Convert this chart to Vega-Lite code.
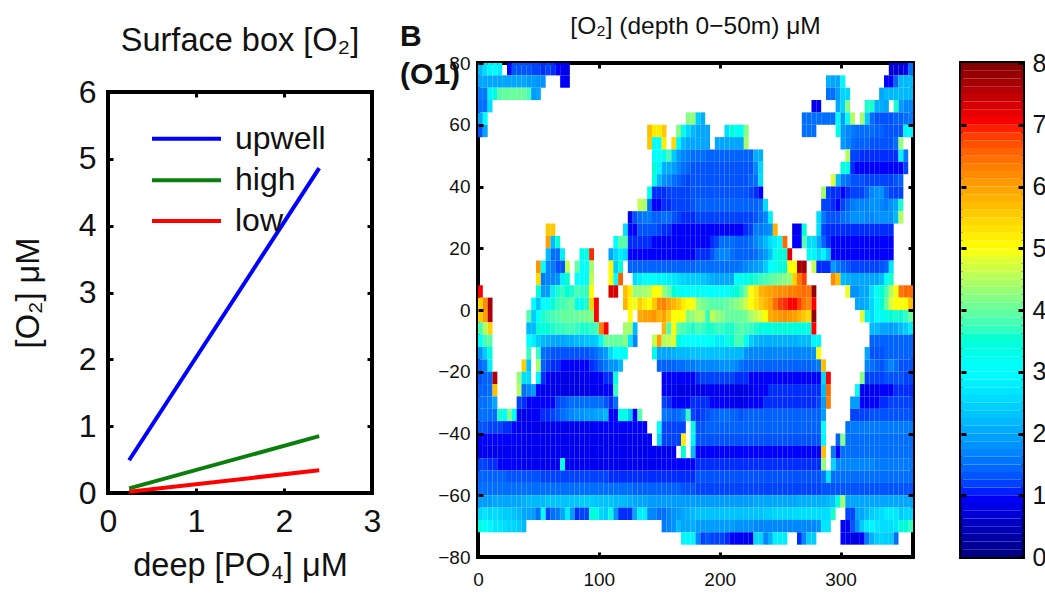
{"$schema":"https://vega.github.io/schema/vega-lite/v6.json","background":"white","padding":{"left":10,"top":11,"right":0,"bottom":0},"spacing":15,"config":{"view":{"stroke":"black","strokeWidth":4},"font":"Liberation Sans","axis":{"grid":false,"domain":false,"labelFlush":false,"tickColor":"black","labelColor":"#111","titleColor":"#111","titleFontWeight":"normal"}},
"hconcat":[
{"bounds":"flush","spacing":0,"vconcat":[
{"width":264,"height":29,"view":{"stroke":null},"data":{"values":[{"k":1}]},"mark":{"type":"point","opacity":0},"encoding":{}},
{"width":264,"height":401,"title":{"text":"Surface box [O₂]","fontSize":32.5,"fontWeight":"normal","offset":19,"color":"#111"},
"resolve":{"axis":{"x":"independent","y":"independent"}},
"layer":[
{"data":{"values":[{"d":0.24,"o":0.49,"s":"upwell"},{"d":2.4,"o":4.86,"s":"upwell"},{"d":0.24,"o":0.07,"s":"high"},{"d":2.4,"o":0.85,"s":"high"},{"d":0.24,"o":0.02,"s":"low"},{"d":2.4,"o":0.34,"s":"low"}]},
"mark":{"type":"line","strokeWidth":4},
"encoding":{"x":{"field":"d","type":"quantitative","scale":{"domain":[0,3]},"axis":{"values":[0,1,2,3],"tickSize":-5,"tickWidth":3,"labelFontSize":32,"labelPadding":18,"titleFontSize":32.5,"title":"deep [PO₄] μM","titlePadding":12}},
"y":{"field":"o","type":"quantitative","scale":{"domain":[0,6]},"axis":{"values":[0,1,2,3,4,5,6],"tickSize":-5,"tickWidth":3,"labelFontSize":32,"labelPadding":17,"titleFontSize":32.5,"title":"[O₂] μM","titlePadding":33}},
"color":{"field":"s","type":"nominal","scale":{"domain":["upwell","high","low"],"range":["#0000ff","#0b7f0b","#ff0000"]},"legend":null}}},
{"data":{"values":[{"d":0.5,"d2":1.284,"t":1.443,"o":5.3,"s":"upwell"},{"d":0.5,"d2":1.284,"t":1.443,"o":4.68,"s":"high"},{"d":0.5,"d2":1.284,"t":1.443,"o":4.07,"s":"low"}]},"mark":{"type":"rule","strokeWidth":4},
"encoding":{"x":{"field":"d","type":"quantitative","axis":null},"x2":{"field":"d2"},"y":{"field":"o","type":"quantitative","axis":null},"color":{"field":"s","type":"nominal","legend":null}}},
{"data":{"values":[{"t":1.443,"o":5.3,"s":"upwell"},{"t":1.443,"o":4.68,"s":"high"},{"t":1.443,"o":4.07,"s":"low"}]},"mark":{"type":"text","align":"left","baseline":"middle","fontSize":32,"color":"#111"},
"encoding":{"x":{"field":"t","type":"quantitative","axis":null},"y":{"field":"o","type":"quantitative","axis":null},"text":{"field":"s"}}},
{"data":{"values":[{"d":1,"o":1}]},"mark":{"type":"point","opacity":0},
"encoding":{"x":{"field":"d","type":"quantitative","axis":{"orient":"top","values":[1,2],"labels":false,"tickSize":-5,"tickWidth":3,"title":null}},
"y":{"field":"o","type":"quantitative","axis":{"orient":"right","values":[1,2,3,4,5],"labels":false,"tickSize":-5,"tickWidth":3,"title":null}}}}
]}
]},
{"width":435,"height":494,
"resolve":{"axis":{"x":"independent","y":"independent"}},
"layer":[
{"data":{"values":[
{"x":2,"y":78,"v":2.2},{"x":6,"y":78,"v":2.6},{"x":10,"y":78,"v":2.9},{"x":14,"y":78,"v":3},{"x":18,"y":78,"v":2.8},{"x":26,"y":78,"v":1},{"x":30,"y":78,"v":1.3},{"x":34,"y":78,"v":1.3},{"x":38,"y":78,"v":1.3},{"x":42,"y":78,"v":1.3},{"x":46,"y":78,"v":1.2},{"x":50,"y":78,"v":1.2},{"x":54,"y":78,"v":1.1},{"x":58,"y":78,"v":1.2},{"x":62,"y":78,"v":1.1},{"x":66,"y":78,"v":1},{"x":70,"y":78,"v":0.9},{"x":74,"y":78,"v":0.8},{"x":342,"y":78,"v":0.7},{"x":346,"y":78,"v":0.7},{"x":350,"y":78,"v":0.7},{"x":354,"y":78,"v":0.9},{"x":358,"y":78,"v":1.5},
{"x":2,"y":74,"v":2},{"x":6,"y":74,"v":2},{"x":10,"y":74,"v":2},{"x":14,"y":74,"v":2},{"x":18,"y":74,"v":2},{"x":22,"y":74,"v":2},{"x":26,"y":74,"v":2},{"x":30,"y":74,"v":2},{"x":34,"y":74,"v":2},{"x":38,"y":74,"v":2},{"x":42,"y":74,"v":1.9},{"x":46,"y":74,"v":1.9},{"x":50,"y":74,"v":1.8},{"x":54,"y":74,"v":1.8},{"x":70,"y":74,"v":1},{"x":74,"y":74,"v":0.9},{"x":290,"y":74,"v":2.1},{"x":294,"y":74,"v":2},{"x":298,"y":74,"v":2},{"x":302,"y":74,"v":2.9},{"x":338,"y":74,"v":1},{"x":342,"y":74,"v":1},{"x":346,"y":74,"v":1.4},{"x":350,"y":74,"v":2.2},{"x":354,"y":74,"v":2.2},{"x":358,"y":74,"v":2.2},
{"x":2,"y":70,"v":1.6},{"x":6,"y":70,"v":1.6},{"x":10,"y":70,"v":2.9},{"x":14,"y":70,"v":3.4},{"x":18,"y":70,"v":3.9},{"x":22,"y":70,"v":4},{"x":26,"y":70,"v":4},{"x":30,"y":70,"v":4},{"x":34,"y":70,"v":4},{"x":38,"y":70,"v":4},{"x":42,"y":70,"v":3.8},{"x":46,"y":70,"v":1.9},{"x":50,"y":70,"v":2},{"x":290,"y":70,"v":1.5},{"x":294,"y":70,"v":1.5},{"x":298,"y":70,"v":1.9},{"x":302,"y":70,"v":2.5},{"x":306,"y":70,"v":2.5},{"x":334,"y":70,"v":2},{"x":338,"y":70,"v":2.2},{"x":342,"y":70,"v":2.2},{"x":346,"y":70,"v":2.2},{"x":350,"y":70,"v":2.2},{"x":354,"y":70,"v":2.2},{"x":358,"y":70,"v":2.2},
{"x":2,"y":66,"v":1.5},{"x":6,"y":66,"v":1.5},{"x":10,"y":66,"v":2.6},{"x":278,"y":66,"v":0.9},{"x":282,"y":66,"v":0.9},{"x":298,"y":66,"v":2},{"x":302,"y":66,"v":2.5},{"x":306,"y":66,"v":4.2},{"x":322,"y":66,"v":3.6},{"x":326,"y":66,"v":3.6},{"x":330,"y":66,"v":2.1},{"x":334,"y":66,"v":2.1},{"x":338,"y":66,"v":2},{"x":346,"y":66,"v":3.6},{"x":350,"y":66,"v":1.9},{"x":354,"y":66,"v":1.7},{"x":358,"y":66,"v":1.7},
{"x":2,"y":62,"v":2},{"x":6,"y":62,"v":3.1},{"x":174,"y":62,"v":4.2},{"x":178,"y":62,"v":4.3},{"x":182,"y":62,"v":2.4},{"x":186,"y":62,"v":2.1},{"x":270,"y":62,"v":1.5},{"x":274,"y":62,"v":1.5},{"x":278,"y":62,"v":1.5},{"x":282,"y":62,"v":1.5},{"x":286,"y":62,"v":1.5},{"x":290,"y":62,"v":1.5},{"x":294,"y":62,"v":1.5},{"x":298,"y":62,"v":3},{"x":302,"y":62,"v":1.9},{"x":306,"y":62,"v":3},{"x":310,"y":62,"v":4.5},{"x":318,"y":62,"v":4.4},{"x":322,"y":62,"v":2.4},{"x":326,"y":62,"v":1.5},{"x":330,"y":62,"v":1.3},{"x":334,"y":62,"v":1.3},{"x":338,"y":62,"v":1.3},{"x":342,"y":62,"v":1.3},{"x":346,"y":62,"v":1.4},{"x":350,"y":62,"v":1.4},{"x":354,"y":62,"v":1.5},{"x":358,"y":62,"v":1.6},
{"x":2,"y":58,"v":1.3},{"x":6,"y":58,"v":2},{"x":142,"y":58,"v":5.7},{"x":146,"y":58,"v":5.2},{"x":150,"y":58,"v":5.2},{"x":154,"y":58,"v":5.6},{"x":166,"y":58,"v":4.2},{"x":170,"y":58,"v":3.2},{"x":174,"y":58,"v":2.5},{"x":178,"y":58,"v":2.2},{"x":182,"y":58,"v":2},{"x":186,"y":58,"v":2},{"x":190,"y":58,"v":2},{"x":206,"y":58,"v":2.6},{"x":210,"y":58,"v":3.5},{"x":214,"y":58,"v":3.2},{"x":218,"y":58,"v":3.2},{"x":222,"y":58,"v":4.2},{"x":270,"y":58,"v":1.5},{"x":274,"y":58,"v":1.5},{"x":278,"y":58,"v":1.5},{"x":298,"y":58,"v":3.4},{"x":302,"y":58,"v":1.9},{"x":306,"y":58,"v":1.7},{"x":310,"y":58,"v":1.6},{"x":314,"y":58,"v":1.5},{"x":318,"y":58,"v":1.5},{"x":322,"y":58,"v":1.5},{"x":326,"y":58,"v":1.5},{"x":330,"y":58,"v":1.4},{"x":334,"y":58,"v":1.4},{"x":338,"y":58,"v":1.3},{"x":342,"y":58,"v":1.3},{"x":346,"y":58,"v":1.3},{"x":350,"y":58,"v":1.3},{"x":354,"y":58,"v":2.9},{"x":358,"y":58,"v":2.9},
{"x":142,"y":54,"v":5.6},{"x":146,"y":54,"v":3},{"x":150,"y":54,"v":3},{"x":154,"y":54,"v":5.2},{"x":162,"y":54,"v":5.4},{"x":166,"y":54,"v":2.9},{"x":170,"y":54,"v":2.2},{"x":174,"y":54,"v":2},{"x":178,"y":54,"v":2},{"x":182,"y":54,"v":2},{"x":186,"y":54,"v":2},{"x":190,"y":54,"v":2},{"x":198,"y":54,"v":2},{"x":202,"y":54,"v":2},{"x":206,"y":54,"v":2},{"x":210,"y":54,"v":2},{"x":214,"y":54,"v":2},{"x":218,"y":54,"v":2},{"x":222,"y":54,"v":4.4},{"x":302,"y":54,"v":1.9},{"x":306,"y":54,"v":1.7},{"x":310,"y":54,"v":1.5},{"x":314,"y":54,"v":1.4},{"x":318,"y":54,"v":1.4},{"x":322,"y":54,"v":1.4},{"x":326,"y":54,"v":1.3},{"x":330,"y":54,"v":1.3},{"x":334,"y":54,"v":1.3},{"x":338,"y":54,"v":1.3},{"x":342,"y":54,"v":1.3},{"x":346,"y":54,"v":1.5},{"x":350,"y":54,"v":4.3},
{"x":146,"y":50,"v":3},{"x":150,"y":50,"v":3},{"x":154,"y":50,"v":3.3},{"x":158,"y":50,"v":3.8},{"x":162,"y":50,"v":2.4},{"x":166,"y":50,"v":1.9},{"x":170,"y":50,"v":1.7},{"x":174,"y":50,"v":1.6},{"x":178,"y":50,"v":1.5},{"x":182,"y":50,"v":1.5},{"x":186,"y":50,"v":1.5},{"x":190,"y":50,"v":1.4},{"x":194,"y":50,"v":1.4},{"x":198,"y":50,"v":1.4},{"x":202,"y":50,"v":1.4},{"x":206,"y":50,"v":1.4},{"x":210,"y":50,"v":1.4},{"x":214,"y":50,"v":1.4},{"x":218,"y":50,"v":1.4},{"x":222,"y":50,"v":1.4},{"x":226,"y":50,"v":1.4},{"x":230,"y":50,"v":2.1},{"x":234,"y":50,"v":2.1},{"x":306,"y":50,"v":4.5},{"x":310,"y":50,"v":1.2},{"x":314,"y":50,"v":1.2},{"x":318,"y":50,"v":1.1},{"x":322,"y":50,"v":1.1},{"x":326,"y":50,"v":1.1},{"x":330,"y":50,"v":1.1},{"x":334,"y":50,"v":1.1},{"x":338,"y":50,"v":1.1},{"x":342,"y":50,"v":1.1},{"x":346,"y":50,"v":1.1},{"x":350,"y":50,"v":2.9},{"x":354,"y":50,"v":1.6},
{"x":146,"y":46,"v":3.5},{"x":150,"y":46,"v":2.9},{"x":154,"y":46,"v":2.1},{"x":158,"y":46,"v":2.1},{"x":162,"y":46,"v":1.9},{"x":166,"y":46,"v":1.7},{"x":170,"y":46,"v":1.5},{"x":174,"y":46,"v":1.4},{"x":178,"y":46,"v":1.3},{"x":182,"y":46,"v":1.3},{"x":186,"y":46,"v":1.3},{"x":190,"y":46,"v":1.3},{"x":194,"y":46,"v":1.3},{"x":198,"y":46,"v":1.3},{"x":202,"y":46,"v":1.3},{"x":206,"y":46,"v":1.3},{"x":210,"y":46,"v":1.3},{"x":214,"y":46,"v":1.3},{"x":218,"y":46,"v":1.3},{"x":222,"y":46,"v":1.3},{"x":226,"y":46,"v":1.3},{"x":230,"y":46,"v":1.7},{"x":234,"y":46,"v":2.5},{"x":302,"y":46,"v":3.4},{"x":306,"y":46,"v":3.4},{"x":310,"y":46,"v":1.1},{"x":314,"y":46,"v":1},{"x":318,"y":46,"v":1},{"x":322,"y":46,"v":1},{"x":326,"y":46,"v":1},{"x":330,"y":46,"v":1},{"x":334,"y":46,"v":1},{"x":338,"y":46,"v":1},{"x":342,"y":46,"v":1},{"x":346,"y":46,"v":1},{"x":350,"y":46,"v":1},{"x":354,"y":46,"v":1.2},
{"x":146,"y":42,"v":3.4},{"x":150,"y":42,"v":2.2},{"x":154,"y":42,"v":1.8},{"x":158,"y":42,"v":1.7},{"x":162,"y":42,"v":1.5},{"x":166,"y":42,"v":1.4},{"x":170,"y":42,"v":1.3},{"x":174,"y":42,"v":1.2},{"x":178,"y":42,"v":1.3},{"x":182,"y":42,"v":1.3},{"x":186,"y":42,"v":1.3},{"x":190,"y":42,"v":1.3},{"x":194,"y":42,"v":1.3},{"x":198,"y":42,"v":1.3},{"x":202,"y":42,"v":1.3},{"x":206,"y":42,"v":1.3},{"x":210,"y":42,"v":1.3},{"x":214,"y":42,"v":1.3},{"x":218,"y":42,"v":1.3},{"x":222,"y":42,"v":1.3},{"x":226,"y":42,"v":1.4},{"x":230,"y":42,"v":1.5},{"x":234,"y":42,"v":2.6},{"x":294,"y":42,"v":4.8},{"x":298,"y":42,"v":2.2},{"x":302,"y":42,"v":1.6},{"x":306,"y":42,"v":1.5},{"x":310,"y":42,"v":1.3},{"x":314,"y":42,"v":1.3},{"x":318,"y":42,"v":1.3},{"x":322,"y":42,"v":1.2},{"x":326,"y":42,"v":1.2},{"x":330,"y":42,"v":1.2},{"x":334,"y":42,"v":1.2},{"x":338,"y":42,"v":1.2},{"x":342,"y":42,"v":1.2},{"x":346,"y":42,"v":1.3},{"x":350,"y":42,"v":1.4},
{"x":142,"y":38,"v":3.2},{"x":146,"y":38,"v":1.1},{"x":150,"y":38,"v":1.1},{"x":154,"y":38,"v":1.1},{"x":158,"y":38,"v":1.2},{"x":162,"y":38,"v":1.2},{"x":166,"y":38,"v":1.2},{"x":170,"y":38,"v":1.2},{"x":174,"y":38,"v":1.2},{"x":178,"y":38,"v":1.3},{"x":182,"y":38,"v":1.3},{"x":186,"y":38,"v":1.3},{"x":190,"y":38,"v":1.3},{"x":194,"y":38,"v":1.3},{"x":198,"y":38,"v":1.3},{"x":202,"y":38,"v":1.3},{"x":206,"y":38,"v":1.3},{"x":210,"y":38,"v":1.3},{"x":214,"y":38,"v":1.3},{"x":218,"y":38,"v":1.3},{"x":222,"y":38,"v":1.3},{"x":226,"y":38,"v":1.2},{"x":230,"y":38,"v":1.1},{"x":234,"y":38,"v":1},{"x":286,"y":38,"v":4.4},{"x":290,"y":38,"v":1.2},{"x":294,"y":38,"v":1.1},{"x":298,"y":38,"v":1.1},{"x":302,"y":38,"v":1},{"x":306,"y":38,"v":1.1},{"x":310,"y":38,"v":1.2},{"x":314,"y":38,"v":1.2},{"x":318,"y":38,"v":1.2},{"x":322,"y":38,"v":1.4},{"x":326,"y":38,"v":1.7},{"x":330,"y":38,"v":1.8},{"x":334,"y":38,"v":1.8},{"x":338,"y":38,"v":1.4},{"x":342,"y":38,"v":1.2},{"x":346,"y":38,"v":1.2},{"x":350,"y":38,"v":1.2},
{"x":134,"y":34,"v":4.6},{"x":138,"y":34,"v":4.4},{"x":142,"y":34,"v":1.5},{"x":146,"y":34,"v":1},{"x":150,"y":34,"v":1},{"x":154,"y":34,"v":1.1},{"x":158,"y":34,"v":1.1},{"x":162,"y":34,"v":1.2},{"x":166,"y":34,"v":1.2},{"x":170,"y":34,"v":1.2},{"x":174,"y":34,"v":1.2},{"x":178,"y":34,"v":1.3},{"x":182,"y":34,"v":1.4},{"x":186,"y":34,"v":1.4},{"x":190,"y":34,"v":1.4},{"x":194,"y":34,"v":1.4},{"x":198,"y":34,"v":1.4},{"x":202,"y":34,"v":1.4},{"x":206,"y":34,"v":1.4},{"x":210,"y":34,"v":1.4},{"x":214,"y":34,"v":1.4},{"x":218,"y":34,"v":1.4},{"x":222,"y":34,"v":1.4},{"x":226,"y":34,"v":1.4},{"x":230,"y":34,"v":1.4},{"x":234,"y":34,"v":1.5},{"x":238,"y":34,"v":2.6},{"x":286,"y":34,"v":1.2},{"x":290,"y":34,"v":1.2},{"x":294,"y":34,"v":1.1},{"x":298,"y":34,"v":1},{"x":302,"y":34,"v":1.2},{"x":306,"y":34,"v":1.4},{"x":310,"y":34,"v":1.6},{"x":314,"y":34,"v":1.7},{"x":318,"y":34,"v":1.7},{"x":322,"y":34,"v":1.7},{"x":326,"y":34,"v":1.8},{"x":330,"y":34,"v":1.8},{"x":334,"y":34,"v":1.7},{"x":338,"y":34,"v":1.6},{"x":342,"y":34,"v":1.8},{"x":346,"y":34,"v":2},{"x":350,"y":34,"v":3.6},
{"x":126,"y":30,"v":0.9},{"x":130,"y":30,"v":1.3},{"x":134,"y":30,"v":1.5},{"x":138,"y":30,"v":1.6},{"x":142,"y":30,"v":1.6},{"x":146,"y":30,"v":1.4},{"x":150,"y":30,"v":1.4},{"x":154,"y":30,"v":1.5},{"x":158,"y":30,"v":1.5},{"x":162,"y":30,"v":1.3},{"x":166,"y":30,"v":1.2},{"x":170,"y":30,"v":1.1},{"x":174,"y":30,"v":1.1},{"x":178,"y":30,"v":1.1},{"x":182,"y":30,"v":1.2},{"x":186,"y":30,"v":1.2},{"x":190,"y":30,"v":1.2},{"x":194,"y":30,"v":1.2},{"x":198,"y":30,"v":1.2},{"x":202,"y":30,"v":1.2},{"x":206,"y":30,"v":1.2},{"x":210,"y":30,"v":1.2},{"x":214,"y":30,"v":1.2},{"x":218,"y":30,"v":1.2},{"x":222,"y":30,"v":1.2},{"x":226,"y":30,"v":1.2},{"x":230,"y":30,"v":1.3},{"x":234,"y":30,"v":1.5},{"x":238,"y":30,"v":1.7},{"x":242,"y":30,"v":2.8},{"x":282,"y":30,"v":2.6},{"x":286,"y":30,"v":1.6},{"x":290,"y":30,"v":1.3},{"x":294,"y":30,"v":1.3},{"x":298,"y":30,"v":1.3},{"x":302,"y":30,"v":1.5},{"x":306,"y":30,"v":1.6},{"x":310,"y":30,"v":1.8},{"x":314,"y":30,"v":1.8},{"x":318,"y":30,"v":1.8},{"x":322,"y":30,"v":1.7},{"x":326,"y":30,"v":1.7},{"x":330,"y":30,"v":1.8},{"x":334,"y":30,"v":1.8},{"x":338,"y":30,"v":1.8},{"x":342,"y":30,"v":1.8},{"x":346,"y":30,"v":2.2},{"x":350,"y":30,"v":4.5},
{"x":58,"y":26,"v":5.6},{"x":62,"y":26,"v":5.6},{"x":122,"y":26,"v":2.6},{"x":126,"y":26,"v":1},{"x":130,"y":26,"v":1},{"x":134,"y":26,"v":1.3},{"x":138,"y":26,"v":1.3},{"x":142,"y":26,"v":1.3},{"x":146,"y":26,"v":1.3},{"x":150,"y":26,"v":1.2},{"x":154,"y":26,"v":1.1},{"x":158,"y":26,"v":1.1},{"x":162,"y":26,"v":1},{"x":166,"y":26,"v":1},{"x":170,"y":26,"v":1},{"x":174,"y":26,"v":1},{"x":178,"y":26,"v":1},{"x":182,"y":26,"v":1},{"x":186,"y":26,"v":1},{"x":190,"y":26,"v":1},{"x":194,"y":26,"v":1},{"x":198,"y":26,"v":1},{"x":202,"y":26,"v":1},{"x":206,"y":26,"v":1},{"x":210,"y":26,"v":1},{"x":214,"y":26,"v":1},{"x":218,"y":26,"v":1},{"x":222,"y":26,"v":1.1},{"x":226,"y":26,"v":1.2},{"x":230,"y":26,"v":1.6},{"x":234,"y":26,"v":1.6},{"x":238,"y":26,"v":1.7},{"x":242,"y":26,"v":1.8},{"x":246,"y":26,"v":5.8},{"x":262,"y":26,"v":0.9},{"x":266,"y":26,"v":0.9},{"x":270,"y":26,"v":3.5},{"x":282,"y":26,"v":2.6},{"x":286,"y":26,"v":1.2},{"x":290,"y":26,"v":1.1},{"x":294,"y":26,"v":1.1},{"x":298,"y":26,"v":1.1},{"x":302,"y":26,"v":1.1},{"x":306,"y":26,"v":1.1},{"x":310,"y":26,"v":1.1},{"x":314,"y":26,"v":1.1},{"x":318,"y":26,"v":1.1},{"x":322,"y":26,"v":1.1},{"x":326,"y":26,"v":1.1},{"x":330,"y":26,"v":1.1},{"x":334,"y":26,"v":1.1},{"x":338,"y":26,"v":1.1},{"x":342,"y":26,"v":1.1},
{"x":58,"y":22,"v":6},{"x":62,"y":22,"v":2.2},{"x":66,"y":22,"v":3.5},{"x":114,"y":22,"v":3},{"x":118,"y":22,"v":3.9},{"x":122,"y":22,"v":3.9},{"x":126,"y":22,"v":1.1},{"x":130,"y":22,"v":1.1},{"x":134,"y":22,"v":1.1},{"x":138,"y":22,"v":1.1},{"x":142,"y":22,"v":1.1},{"x":146,"y":22,"v":1},{"x":150,"y":22,"v":1},{"x":154,"y":22,"v":1},{"x":158,"y":22,"v":1},{"x":162,"y":22,"v":1},{"x":166,"y":22,"v":1},{"x":170,"y":22,"v":1},{"x":174,"y":22,"v":1},{"x":178,"y":22,"v":1},{"x":182,"y":22,"v":1},{"x":186,"y":22,"v":1},{"x":190,"y":22,"v":1},{"x":194,"y":22,"v":1.1},{"x":198,"y":22,"v":1.2},{"x":202,"y":22,"v":1.5},{"x":206,"y":22,"v":1.5},{"x":210,"y":22,"v":1.5},{"x":214,"y":22,"v":1.4},{"x":218,"y":22,"v":1.4},{"x":222,"y":22,"v":1.4},{"x":226,"y":22,"v":1.5},{"x":230,"y":22,"v":1.7},{"x":234,"y":22,"v":1.9},{"x":238,"y":22,"v":2.2},{"x":242,"y":22,"v":2.6},{"x":246,"y":22,"v":2.8},{"x":250,"y":22,"v":3},{"x":254,"y":22,"v":6.5},{"x":262,"y":22,"v":1},{"x":266,"y":22,"v":1},{"x":270,"y":22,"v":3.9},{"x":274,"y":22,"v":2.6},{"x":278,"y":22,"v":2.6},{"x":282,"y":22,"v":2},{"x":286,"y":22,"v":1.4},{"x":290,"y":22,"v":1.1},{"x":294,"y":22,"v":1},{"x":298,"y":22,"v":1},{"x":302,"y":22,"v":1},{"x":306,"y":22,"v":1},{"x":310,"y":22,"v":1},{"x":314,"y":22,"v":1},{"x":318,"y":22,"v":1},{"x":322,"y":22,"v":1},{"x":326,"y":22,"v":1},{"x":330,"y":22,"v":1},{"x":334,"y":22,"v":1},{"x":338,"y":22,"v":1},{"x":342,"y":22,"v":1},
{"x":58,"y":18,"v":2.2},{"x":62,"y":18,"v":1.5},{"x":66,"y":18,"v":1.5},{"x":70,"y":18,"v":2.8},{"x":86,"y":18,"v":3.3},{"x":90,"y":18,"v":3.3},{"x":94,"y":18,"v":6.9},{"x":110,"y":18,"v":2},{"x":114,"y":18,"v":2.5},{"x":118,"y":18,"v":2.8},{"x":122,"y":18,"v":2.6},{"x":126,"y":18,"v":1},{"x":130,"y":18,"v":1},{"x":134,"y":18,"v":1},{"x":138,"y":18,"v":1},{"x":142,"y":18,"v":1},{"x":146,"y":18,"v":1},{"x":150,"y":18,"v":1},{"x":154,"y":18,"v":1},{"x":158,"y":18,"v":1},{"x":162,"y":18,"v":1},{"x":166,"y":18,"v":1},{"x":170,"y":18,"v":1},{"x":174,"y":18,"v":1},{"x":178,"y":18,"v":1},{"x":182,"y":18,"v":1.1},{"x":186,"y":18,"v":1.1},{"x":190,"y":18,"v":1.1},{"x":194,"y":18,"v":1.3},{"x":198,"y":18,"v":1.6},{"x":202,"y":18,"v":1.7},{"x":206,"y":18,"v":1.7},{"x":210,"y":18,"v":1.5},{"x":214,"y":18,"v":1.4},{"x":218,"y":18,"v":1.4},{"x":222,"y":18,"v":1.4},{"x":226,"y":18,"v":1.4},{"x":230,"y":18,"v":1.5},{"x":234,"y":18,"v":1.7},{"x":238,"y":18,"v":1.9},{"x":242,"y":18,"v":2.3},{"x":246,"y":18,"v":3.3},{"x":250,"y":18,"v":3.4},{"x":254,"y":18,"v":3.5},{"x":258,"y":18,"v":7.2},{"x":274,"y":18,"v":3.3},{"x":278,"y":18,"v":2.9},{"x":282,"y":18,"v":2.5},{"x":286,"y":18,"v":2.9},{"x":290,"y":18,"v":2.2},{"x":294,"y":18,"v":1},{"x":298,"y":18,"v":1},{"x":302,"y":18,"v":1},{"x":306,"y":18,"v":1},{"x":310,"y":18,"v":1},{"x":314,"y":18,"v":1},{"x":318,"y":18,"v":1},{"x":322,"y":18,"v":1},{"x":326,"y":18,"v":1},{"x":330,"y":18,"v":1},{"x":334,"y":18,"v":1},{"x":338,"y":18,"v":1},{"x":342,"y":18,"v":1},
{"x":50,"y":14,"v":6.1},{"x":54,"y":14,"v":3},{"x":58,"y":14,"v":1.7},{"x":62,"y":14,"v":1.6},{"x":66,"y":14,"v":1.3},{"x":70,"y":14,"v":1.3},{"x":74,"y":14,"v":4.6},{"x":82,"y":14,"v":4},{"x":86,"y":14,"v":3},{"x":90,"y":14,"v":3},{"x":94,"y":14,"v":4.4},{"x":110,"y":14,"v":5.1},{"x":114,"y":14,"v":2.4},{"x":118,"y":14,"v":3.5},{"x":126,"y":14,"v":1.4},{"x":130,"y":14,"v":1.4},{"x":134,"y":14,"v":1.4},{"x":138,"y":14,"v":1.4},{"x":142,"y":14,"v":1.4},{"x":146,"y":14,"v":1.4},{"x":150,"y":14,"v":1.4},{"x":154,"y":14,"v":1.4},{"x":158,"y":14,"v":1.4},{"x":162,"y":14,"v":1.4},{"x":166,"y":14,"v":1.4},{"x":170,"y":14,"v":1.4},{"x":174,"y":14,"v":1.4},{"x":178,"y":14,"v":1.4},{"x":182,"y":14,"v":1.5},{"x":186,"y":14,"v":1.5},{"x":190,"y":14,"v":1.5},{"x":194,"y":14,"v":1.5},{"x":198,"y":14,"v":1.5},{"x":202,"y":14,"v":1.5},{"x":206,"y":14,"v":1.5},{"x":210,"y":14,"v":1.5},{"x":214,"y":14,"v":1.5},{"x":218,"y":14,"v":1.6},{"x":222,"y":14,"v":1.7},{"x":226,"y":14,"v":1.8},{"x":230,"y":14,"v":1.9},{"x":234,"y":14,"v":2},{"x":238,"y":14,"v":2.4},{"x":242,"y":14,"v":3},{"x":246,"y":14,"v":3.2},{"x":250,"y":14,"v":3.4},{"x":254,"y":14,"v":3.5},{"x":258,"y":14,"v":5},{"x":262,"y":14,"v":5},{"x":266,"y":14,"v":7.7},{"x":270,"y":14,"v":7.7},{"x":278,"y":14,"v":4.6},{"x":282,"y":14,"v":1.1},{"x":286,"y":14,"v":1.1},{"x":290,"y":14,"v":1.1},{"x":294,"y":14,"v":1.9},{"x":298,"y":14,"v":1.6},{"x":302,"y":14,"v":1.4},{"x":306,"y":14,"v":1.3},{"x":310,"y":14,"v":1.2},{"x":314,"y":14,"v":1.2},{"x":318,"y":14,"v":1.2},{"x":322,"y":14,"v":1.2},{"x":326,"y":14,"v":1.2},{"x":330,"y":14,"v":1.2},{"x":334,"y":14,"v":1.3},{"x":338,"y":14,"v":1.4},{"x":342,"y":14,"v":2.7},
{"x":50,"y":10,"v":5.4},{"x":54,"y":10,"v":1.6},{"x":58,"y":10,"v":1.7},{"x":62,"y":10,"v":1.7},{"x":66,"y":10,"v":1.8},{"x":70,"y":10,"v":2.8},{"x":74,"y":10,"v":3.5},{"x":82,"y":10,"v":3},{"x":86,"y":10,"v":3},{"x":90,"y":10,"v":3},{"x":94,"y":10,"v":4.6},{"x":110,"y":10,"v":5},{"x":114,"y":10,"v":3},{"x":118,"y":10,"v":6.6},{"x":130,"y":10,"v":2.6},{"x":134,"y":10,"v":2.8},{"x":138,"y":10,"v":3},{"x":142,"y":10,"v":3},{"x":146,"y":10,"v":3},{"x":150,"y":10,"v":2.9},{"x":154,"y":10,"v":2.9},{"x":158,"y":10,"v":2.8},{"x":162,"y":10,"v":2.7},{"x":166,"y":10,"v":2.6},{"x":170,"y":10,"v":2.5},{"x":174,"y":10,"v":2.4},{"x":178,"y":10,"v":2.4},{"x":182,"y":10,"v":2.4},{"x":186,"y":10,"v":2.3},{"x":190,"y":10,"v":2.2},{"x":194,"y":10,"v":2.1},{"x":198,"y":10,"v":2},{"x":202,"y":10,"v":2},{"x":206,"y":10,"v":2},{"x":210,"y":10,"v":2},{"x":214,"y":10,"v":3},{"x":218,"y":10,"v":3.2},{"x":222,"y":10,"v":3.3},{"x":226,"y":10,"v":3.5},{"x":230,"y":10,"v":3.6},{"x":234,"y":10,"v":3.7},{"x":238,"y":10,"v":3.8},{"x":242,"y":10,"v":3.9},{"x":246,"y":10,"v":4},{"x":250,"y":10,"v":4.1},{"x":254,"y":10,"v":4.2},{"x":258,"y":10,"v":4.3},{"x":262,"y":10,"v":5.5},{"x":266,"y":10,"v":6.4},{"x":270,"y":10,"v":6.8},{"x":294,"y":10,"v":6.2},{"x":298,"y":10,"v":5.7},{"x":302,"y":10,"v":2.2},{"x":306,"y":10,"v":2.1},{"x":310,"y":10,"v":2},{"x":314,"y":10,"v":2},{"x":318,"y":10,"v":2},{"x":322,"y":10,"v":2},{"x":326,"y":10,"v":2},{"x":330,"y":10,"v":2},{"x":334,"y":10,"v":2.2},{"x":338,"y":10,"v":3},{"x":342,"y":10,"v":3.6},
{"x":2,"y":6,"v":7},{"x":50,"y":6,"v":3.5},{"x":54,"y":6,"v":1.9},{"x":58,"y":6,"v":1.9},{"x":62,"y":6,"v":2.8},{"x":66,"y":6,"v":3.6},{"x":70,"y":6,"v":3.7},{"x":74,"y":6,"v":3.5},{"x":78,"y":6,"v":3.6},{"x":82,"y":6,"v":3.8},{"x":86,"y":6,"v":3.7},{"x":90,"y":6,"v":3.7},{"x":94,"y":6,"v":5},{"x":110,"y":6,"v":7.3},{"x":114,"y":6,"v":7.3},{"x":122,"y":6,"v":5.7},{"x":126,"y":6,"v":5.2},{"x":130,"y":6,"v":4.3},{"x":134,"y":6,"v":4.3},{"x":138,"y":6,"v":4.4},{"x":142,"y":6,"v":4.5},{"x":146,"y":6,"v":5},{"x":150,"y":6,"v":5},{"x":154,"y":6,"v":4.3},{"x":158,"y":6,"v":4},{"x":162,"y":6,"v":3.5},{"x":166,"y":6,"v":3.2},{"x":170,"y":6,"v":3.1},{"x":174,"y":6,"v":3},{"x":178,"y":6,"v":3},{"x":182,"y":6,"v":3.2},{"x":186,"y":6,"v":3.1},{"x":190,"y":6,"v":3},{"x":194,"y":6,"v":3},{"x":198,"y":6,"v":3},{"x":202,"y":6,"v":3},{"x":206,"y":6,"v":3.1},{"x":210,"y":6,"v":3.3},{"x":214,"y":6,"v":3.5},{"x":218,"y":6,"v":3.7},{"x":222,"y":6,"v":4.2},{"x":226,"y":6,"v":5},{"x":230,"y":6,"v":5.3},{"x":234,"y":6,"v":5.8},{"x":238,"y":6,"v":5.9},{"x":242,"y":6,"v":6},{"x":246,"y":6,"v":6.1},{"x":250,"y":6,"v":6.2},{"x":254,"y":6,"v":6.2},{"x":258,"y":6,"v":6.3},{"x":262,"y":6,"v":6.3},{"x":266,"y":6,"v":6.4},{"x":270,"y":6,"v":6.5},{"x":274,"y":6,"v":6.4},{"x":278,"y":6,"v":7.8},{"x":306,"y":6,"v":4.9},{"x":310,"y":6,"v":1.8},{"x":314,"y":6,"v":1.8},{"x":318,"y":6,"v":2},{"x":322,"y":6,"v":2},{"x":326,"y":6,"v":2.6},{"x":330,"y":6,"v":3.1},{"x":334,"y":6,"v":3.5},{"x":338,"y":6,"v":3.8},{"x":342,"y":6,"v":4.5},{"x":346,"y":6,"v":5},{"x":350,"y":6,"v":6.4},{"x":354,"y":6,"v":6.5},{"x":358,"y":6,"v":6.5},
{"x":2,"y":2,"v":5.5},{"x":6,"y":2,"v":6.2},{"x":10,"y":2,"v":7.7},{"x":46,"y":2,"v":3},{"x":50,"y":2,"v":2.3},{"x":54,"y":2,"v":3},{"x":58,"y":2,"v":3},{"x":62,"y":2,"v":3.5},{"x":66,"y":2,"v":3.7},{"x":70,"y":2,"v":3.8},{"x":74,"y":2,"v":3.9},{"x":78,"y":2,"v":4},{"x":82,"y":2,"v":3.3},{"x":86,"y":2,"v":3.2},{"x":90,"y":2,"v":3.6},{"x":94,"y":2,"v":5.5},{"x":98,"y":2,"v":7},{"x":122,"y":2,"v":5.8},{"x":126,"y":2,"v":5.1},{"x":130,"y":2,"v":4.9},{"x":134,"y":2,"v":5.5},{"x":138,"y":2,"v":5.2},{"x":142,"y":2,"v":5},{"x":146,"y":2,"v":5.6},{"x":150,"y":2,"v":6.2},{"x":154,"y":2,"v":6.3},{"x":158,"y":2,"v":6},{"x":162,"y":2,"v":5.8},{"x":166,"y":2,"v":5.6},{"x":170,"y":2,"v":5.2},{"x":174,"y":2,"v":5},{"x":178,"y":2,"v":5},{"x":182,"y":2,"v":4.3},{"x":186,"y":2,"v":4.1},{"x":190,"y":2,"v":4},{"x":194,"y":2,"v":3.9},{"x":198,"y":2,"v":3.9},{"x":202,"y":2,"v":3.9},{"x":206,"y":2,"v":4},{"x":210,"y":2,"v":4.1},{"x":214,"y":2,"v":4.2},{"x":218,"y":2,"v":4.4},{"x":222,"y":2,"v":4.7},{"x":226,"y":2,"v":5},{"x":230,"y":2,"v":5.3},{"x":234,"y":2,"v":5.6},{"x":238,"y":2,"v":5.8},{"x":242,"y":2,"v":6},{"x":246,"y":2,"v":6.5},{"x":250,"y":2,"v":6.8},{"x":254,"y":2,"v":6.9},{"x":258,"y":2,"v":7},{"x":262,"y":2,"v":7},{"x":266,"y":2,"v":6.8},{"x":270,"y":2,"v":6.4},{"x":274,"y":2,"v":6.2},{"x":278,"y":2,"v":7},{"x":314,"y":2,"v":2},{"x":318,"y":2,"v":2},{"x":322,"y":2,"v":2.1},{"x":326,"y":2,"v":2.5},{"x":330,"y":2,"v":3},{"x":334,"y":2,"v":3.5},{"x":338,"y":2,"v":4},{"x":342,"y":2,"v":4.8},{"x":346,"y":2,"v":5},{"x":350,"y":2,"v":5},{"x":354,"y":2,"v":5},{"x":358,"y":2,"v":5.7},
{"x":2,"y":-2,"v":5.6},{"x":6,"y":-2,"v":6},{"x":10,"y":-2,"v":7.6},{"x":42,"y":-2,"v":3.9},{"x":46,"y":-2,"v":2.4},{"x":50,"y":-2,"v":3},{"x":54,"y":-2,"v":3.6},{"x":58,"y":-2,"v":3.7},{"x":62,"y":-2,"v":3.8},{"x":66,"y":-2,"v":3.9},{"x":70,"y":-2,"v":4},{"x":74,"y":-2,"v":4},{"x":78,"y":-2,"v":4},{"x":82,"y":-2,"v":4},{"x":86,"y":-2,"v":4.1},{"x":90,"y":-2,"v":4.1},{"x":94,"y":-2,"v":4.2},{"x":98,"y":-2,"v":7},{"x":126,"y":-2,"v":5},{"x":134,"y":-2,"v":5.9},{"x":138,"y":-2,"v":6},{"x":142,"y":-2,"v":6},{"x":146,"y":-2,"v":6.1},{"x":150,"y":-2,"v":5.8},{"x":154,"y":-2,"v":6},{"x":158,"y":-2,"v":5.6},{"x":162,"y":-2,"v":5},{"x":166,"y":-2,"v":5},{"x":170,"y":-2,"v":5},{"x":174,"y":-2,"v":4.2},{"x":178,"y":-2,"v":4.3},{"x":182,"y":-2,"v":4.5},{"x":186,"y":-2,"v":4.5},{"x":190,"y":-2,"v":3.7},{"x":194,"y":-2,"v":4.6},{"x":198,"y":-2,"v":4.3},{"x":202,"y":-2,"v":4.2},{"x":206,"y":-2,"v":4},{"x":210,"y":-2,"v":4},{"x":214,"y":-2,"v":4},{"x":218,"y":-2,"v":4},{"x":222,"y":-2,"v":4.1},{"x":226,"y":-2,"v":4.4},{"x":230,"y":-2,"v":4.6},{"x":234,"y":-2,"v":4.8},{"x":238,"y":-2,"v":5},{"x":242,"y":-2,"v":5.9},{"x":246,"y":-2,"v":6},{"x":250,"y":-2,"v":6.1},{"x":254,"y":-2,"v":6.2},{"x":258,"y":-2,"v":6.1},{"x":262,"y":-2,"v":6},{"x":266,"y":-2,"v":5.8},{"x":270,"y":-2,"v":5.6},{"x":274,"y":-2,"v":5.4},{"x":278,"y":-2,"v":7.8},{"x":318,"y":-2,"v":4.8},{"x":322,"y":-2,"v":2.8},{"x":326,"y":-2,"v":2.5},{"x":330,"y":-2,"v":3},{"x":334,"y":-2,"v":3.2},{"x":338,"y":-2,"v":3.3},{"x":342,"y":-2,"v":3.5},{"x":346,"y":-2,"v":3.6},{"x":350,"y":-2,"v":3.5},{"x":354,"y":-2,"v":3.7},{"x":358,"y":-2,"v":4},
{"x":2,"y":-6,"v":3.8},{"x":6,"y":-6,"v":4.5},{"x":10,"y":-6,"v":5.5},{"x":42,"y":-6,"v":2.2},{"x":46,"y":-6,"v":2.2},{"x":50,"y":-6,"v":3.5},{"x":54,"y":-6,"v":3.4},{"x":58,"y":-6,"v":3.5},{"x":62,"y":-6,"v":3.6},{"x":66,"y":-6,"v":3.7},{"x":70,"y":-6,"v":3.7},{"x":74,"y":-6,"v":3.8},{"x":78,"y":-6,"v":3.8},{"x":82,"y":-6,"v":3.7},{"x":86,"y":-6,"v":3.6},{"x":90,"y":-6,"v":3.6},{"x":94,"y":-6,"v":3.7},{"x":98,"y":-6,"v":3.8},{"x":102,"y":-6,"v":6.3},{"x":106,"y":-6,"v":7},{"x":122,"y":-6,"v":4.4},{"x":126,"y":-6,"v":4.4},{"x":130,"y":-6,"v":2.2},{"x":154,"y":-6,"v":5.8},{"x":158,"y":-6,"v":3.8},{"x":162,"y":-6,"v":5},{"x":166,"y":-6,"v":4},{"x":170,"y":-6,"v":3.8},{"x":174,"y":-6,"v":3.7},{"x":178,"y":-6,"v":3.6},{"x":182,"y":-6,"v":3.8},{"x":186,"y":-6,"v":3.7},{"x":190,"y":-6,"v":3.6},{"x":194,"y":-6,"v":3.6},{"x":198,"y":-6,"v":3.7},{"x":202,"y":-6,"v":3.7},{"x":206,"y":-6,"v":3.6},{"x":210,"y":-6,"v":3.6},{"x":214,"y":-6,"v":3.8},{"x":218,"y":-6,"v":3.9},{"x":222,"y":-6,"v":3.8},{"x":226,"y":-6,"v":3.7},{"x":230,"y":-6,"v":3.6},{"x":234,"y":-6,"v":3.5},{"x":238,"y":-6,"v":3.4},{"x":242,"y":-6,"v":3.4},{"x":246,"y":-6,"v":3.5},{"x":250,"y":-6,"v":3.5},{"x":254,"y":-6,"v":3.5},{"x":258,"y":-6,"v":3.5},{"x":262,"y":-6,"v":3.4},{"x":266,"y":-6,"v":3.4},{"x":270,"y":-6,"v":3.4},{"x":274,"y":-6,"v":3.4},{"x":278,"y":-6,"v":7},{"x":326,"y":-6,"v":2.2},{"x":330,"y":-6,"v":2.2},{"x":334,"y":-6,"v":2},{"x":338,"y":-6,"v":2},{"x":342,"y":-6,"v":1.9},{"x":346,"y":-6,"v":2},{"x":350,"y":-6,"v":2.2},{"x":354,"y":-6,"v":2.4},{"x":358,"y":-6,"v":2.7},
{"x":2,"y":-10,"v":3},{"x":6,"y":-10,"v":3.8},{"x":10,"y":-10,"v":3.9},{"x":42,"y":-10,"v":3},{"x":46,"y":-10,"v":2.8},{"x":50,"y":-10,"v":2.4},{"x":54,"y":-10,"v":2.2},{"x":58,"y":-10,"v":2.1},{"x":62,"y":-10,"v":2},{"x":66,"y":-10,"v":2},{"x":70,"y":-10,"v":2},{"x":74,"y":-10,"v":2.1},{"x":78,"y":-10,"v":2.1},{"x":82,"y":-10,"v":2.2},{"x":86,"y":-10,"v":2.2},{"x":90,"y":-10,"v":2.3},{"x":94,"y":-10,"v":2.3},{"x":98,"y":-10,"v":2.4},{"x":102,"y":-10,"v":3.2},{"x":106,"y":-10,"v":4},{"x":110,"y":-10,"v":4},{"x":114,"y":-10,"v":4},{"x":118,"y":-10,"v":4},{"x":122,"y":-10,"v":4.2},{"x":126,"y":-10,"v":2.7},{"x":130,"y":-10,"v":1.7},{"x":146,"y":-10,"v":4.6},{"x":150,"y":-10,"v":6},{"x":154,"y":-10,"v":4.5},{"x":158,"y":-10,"v":4.6},{"x":162,"y":-10,"v":4.8},{"x":166,"y":-10,"v":3.5},{"x":170,"y":-10,"v":3},{"x":174,"y":-10,"v":3},{"x":178,"y":-10,"v":3},{"x":182,"y":-10,"v":3},{"x":186,"y":-10,"v":3},{"x":190,"y":-10,"v":3},{"x":194,"y":-10,"v":3.2},{"x":198,"y":-10,"v":2.8},{"x":202,"y":-10,"v":2.8},{"x":206,"y":-10,"v":3.3},{"x":210,"y":-10,"v":3.5},{"x":214,"y":-10,"v":3.8},{"x":218,"y":-10,"v":3.8},{"x":222,"y":-10,"v":3.2},{"x":226,"y":-10,"v":2.4},{"x":230,"y":-10,"v":2.2},{"x":234,"y":-10,"v":2.1},{"x":238,"y":-10,"v":2.1},{"x":242,"y":-10,"v":2.1},{"x":246,"y":-10,"v":2.1},{"x":250,"y":-10,"v":2.1},{"x":254,"y":-10,"v":2.1},{"x":258,"y":-10,"v":2.1},{"x":262,"y":-10,"v":2.1},{"x":266,"y":-10,"v":2.2},{"x":270,"y":-10,"v":2.2},{"x":274,"y":-10,"v":2.2},{"x":278,"y":-10,"v":2.9},{"x":282,"y":-10,"v":2.9},{"x":326,"y":-10,"v":1.4},{"x":330,"y":-10,"v":1.4},{"x":334,"y":-10,"v":1.4},{"x":338,"y":-10,"v":1.4},{"x":342,"y":-10,"v":1.4},{"x":346,"y":-10,"v":1.4},{"x":350,"y":-10,"v":1.4},{"x":354,"y":-10,"v":1.4},{"x":358,"y":-10,"v":1.4},
{"x":2,"y":-14,"v":1.8},{"x":6,"y":-14,"v":2.4},{"x":10,"y":-14,"v":3.4},{"x":42,"y":-14,"v":3.7},{"x":50,"y":-14,"v":3.7},{"x":54,"y":-14,"v":1.5},{"x":58,"y":-14,"v":1.4},{"x":62,"y":-14,"v":1.3},{"x":66,"y":-14,"v":1.3},{"x":70,"y":-14,"v":1.3},{"x":74,"y":-14,"v":1.3},{"x":78,"y":-14,"v":1.3},{"x":82,"y":-14,"v":1.3},{"x":86,"y":-14,"v":1.3},{"x":90,"y":-14,"v":1.3},{"x":94,"y":-14,"v":1.4},{"x":98,"y":-14,"v":1.5},{"x":102,"y":-14,"v":1.7},{"x":106,"y":-14,"v":1.9},{"x":110,"y":-14,"v":2.6},{"x":114,"y":-14,"v":3},{"x":118,"y":-14,"v":3},{"x":122,"y":-14,"v":3.2},{"x":146,"y":-14,"v":3.3},{"x":150,"y":-14,"v":2},{"x":154,"y":-14,"v":2},{"x":158,"y":-14,"v":2},{"x":162,"y":-14,"v":2.1},{"x":166,"y":-14,"v":2.2},{"x":170,"y":-14,"v":2.2},{"x":174,"y":-14,"v":2.2},{"x":178,"y":-14,"v":2.3},{"x":182,"y":-14,"v":2.3},{"x":186,"y":-14,"v":2.3},{"x":190,"y":-14,"v":2.3},{"x":194,"y":-14,"v":2.3},{"x":198,"y":-14,"v":2.3},{"x":202,"y":-14,"v":2.3},{"x":206,"y":-14,"v":2.2},{"x":210,"y":-14,"v":2.2},{"x":214,"y":-14,"v":2.2},{"x":218,"y":-14,"v":2.2},{"x":222,"y":-14,"v":1.8},{"x":226,"y":-14,"v":1.7},{"x":230,"y":-14,"v":1.7},{"x":234,"y":-14,"v":1.7},{"x":238,"y":-14,"v":1.7},{"x":242,"y":-14,"v":1.7},{"x":246,"y":-14,"v":1.7},{"x":250,"y":-14,"v":1.7},{"x":254,"y":-14,"v":1.7},{"x":258,"y":-14,"v":1.7},{"x":262,"y":-14,"v":1.7},{"x":266,"y":-14,"v":1.7},{"x":270,"y":-14,"v":1.7},{"x":274,"y":-14,"v":1.7},{"x":278,"y":-14,"v":1.8},{"x":282,"y":-14,"v":5},{"x":322,"y":-14,"v":2},{"x":326,"y":-14,"v":1.3},{"x":330,"y":-14,"v":1.3},{"x":334,"y":-14,"v":1.3},{"x":338,"y":-14,"v":1.4},{"x":342,"y":-14,"v":1.4},{"x":346,"y":-14,"v":1.4},{"x":350,"y":-14,"v":1.4},{"x":354,"y":-14,"v":1.4},{"x":358,"y":-14,"v":1.4},
{"x":2,"y":-18,"v":1.4},{"x":6,"y":-18,"v":1.6},{"x":10,"y":-18,"v":2.8},{"x":38,"y":-18,"v":5.5},{"x":42,"y":-18,"v":2.3},{"x":50,"y":-18,"v":4.4},{"x":54,"y":-18,"v":1.4},{"x":58,"y":-18,"v":1.2},{"x":62,"y":-18,"v":1.1},{"x":66,"y":-18,"v":1.1},{"x":70,"y":-18,"v":1},{"x":74,"y":-18,"v":1},{"x":78,"y":-18,"v":1},{"x":82,"y":-18,"v":1},{"x":86,"y":-18,"v":1},{"x":90,"y":-18,"v":1},{"x":94,"y":-18,"v":1.1},{"x":98,"y":-18,"v":1.2},{"x":102,"y":-18,"v":1.4},{"x":106,"y":-18,"v":1.6},{"x":110,"y":-18,"v":1.8},{"x":114,"y":-18,"v":1.8},{"x":118,"y":-18,"v":2.2},{"x":150,"y":-18,"v":1.4},{"x":154,"y":-18,"v":1.4},{"x":158,"y":-18,"v":1.4},{"x":162,"y":-18,"v":1.4},{"x":166,"y":-18,"v":1.5},{"x":170,"y":-18,"v":1.5},{"x":174,"y":-18,"v":1.6},{"x":178,"y":-18,"v":1.6},{"x":182,"y":-18,"v":1.7},{"x":186,"y":-18,"v":1.7},{"x":190,"y":-18,"v":1.7},{"x":194,"y":-18,"v":1.7},{"x":198,"y":-18,"v":1.7},{"x":202,"y":-18,"v":1.8},{"x":206,"y":-18,"v":1.8},{"x":210,"y":-18,"v":1.8},{"x":214,"y":-18,"v":1.7},{"x":218,"y":-18,"v":1.5},{"x":222,"y":-18,"v":1.4},{"x":226,"y":-18,"v":1.4},{"x":230,"y":-18,"v":1.4},{"x":234,"y":-18,"v":1.4},{"x":238,"y":-18,"v":1.4},{"x":242,"y":-18,"v":1.4},{"x":246,"y":-18,"v":1.4},{"x":250,"y":-18,"v":1.4},{"x":254,"y":-18,"v":1.4},{"x":258,"y":-18,"v":1.4},{"x":262,"y":-18,"v":1.4},{"x":266,"y":-18,"v":1.4},{"x":270,"y":-18,"v":1.4},{"x":274,"y":-18,"v":1.4},{"x":278,"y":-18,"v":1.5},{"x":282,"y":-18,"v":1.6},{"x":286,"y":-18,"v":5.7},{"x":322,"y":-18,"v":1.7},{"x":326,"y":-18,"v":1.5},{"x":330,"y":-18,"v":1.4},{"x":334,"y":-18,"v":1.3},{"x":338,"y":-18,"v":1.5},{"x":342,"y":-18,"v":1.7},{"x":346,"y":-18,"v":1.5},{"x":350,"y":-18,"v":1.3},{"x":354,"y":-18,"v":1.3},{"x":358,"y":-18,"v":1.3},
{"x":2,"y":-22,"v":1.3},{"x":6,"y":-22,"v":1.4},{"x":10,"y":-22,"v":1.4},{"x":14,"y":-22,"v":7.6},{"x":34,"y":-22,"v":4.3},{"x":38,"y":-22,"v":2.6},{"x":42,"y":-22,"v":2.6},{"x":50,"y":-22,"v":2.9},{"x":54,"y":-22,"v":1.1},{"x":58,"y":-22,"v":1},{"x":62,"y":-22,"v":0.9},{"x":66,"y":-22,"v":0.9},{"x":70,"y":-22,"v":0.8},{"x":74,"y":-22,"v":0.8},{"x":78,"y":-22,"v":0.8},{"x":82,"y":-22,"v":0.8},{"x":86,"y":-22,"v":0.9},{"x":90,"y":-22,"v":0.9},{"x":94,"y":-22,"v":0.9},{"x":98,"y":-22,"v":1},{"x":102,"y":-22,"v":1},{"x":106,"y":-22,"v":1.1},{"x":110,"y":-22,"v":1.1},{"x":114,"y":-22,"v":3.4},{"x":154,"y":-22,"v":1},{"x":158,"y":-22,"v":1},{"x":162,"y":-22,"v":1},{"x":166,"y":-22,"v":1},{"x":170,"y":-22,"v":1},{"x":174,"y":-22,"v":1},{"x":178,"y":-22,"v":1},{"x":182,"y":-22,"v":1.1},{"x":186,"y":-22,"v":1.2},{"x":190,"y":-22,"v":1.2},{"x":194,"y":-22,"v":1.2},{"x":198,"y":-22,"v":1.2},{"x":202,"y":-22,"v":1.2},{"x":206,"y":-22,"v":1.2},{"x":210,"y":-22,"v":1.2},{"x":214,"y":-22,"v":1.1},{"x":218,"y":-22,"v":1.1},{"x":222,"y":-22,"v":1.1},{"x":226,"y":-22,"v":1},{"x":230,"y":-22,"v":1},{"x":234,"y":-22,"v":1},{"x":238,"y":-22,"v":1},{"x":242,"y":-22,"v":1},{"x":246,"y":-22,"v":1},{"x":250,"y":-22,"v":1},{"x":254,"y":-22,"v":1},{"x":258,"y":-22,"v":1},{"x":262,"y":-22,"v":1},{"x":266,"y":-22,"v":1},{"x":270,"y":-22,"v":1},{"x":274,"y":-22,"v":1},{"x":278,"y":-22,"v":1},{"x":282,"y":-22,"v":1},{"x":286,"y":-22,"v":2.5},{"x":290,"y":-22,"v":7},{"x":318,"y":-22,"v":4.2},{"x":322,"y":-22,"v":1.2},{"x":326,"y":-22,"v":1.2},{"x":330,"y":-22,"v":1.2},{"x":334,"y":-22,"v":1.2},{"x":338,"y":-22,"v":1.3},{"x":342,"y":-22,"v":1.3},{"x":346,"y":-22,"v":1.3},{"x":350,"y":-22,"v":1.3},{"x":354,"y":-22,"v":1.2},{"x":358,"y":-22,"v":1.2},
{"x":2,"y":-26,"v":1.4},{"x":6,"y":-26,"v":1.4},{"x":10,"y":-26,"v":1.5},{"x":14,"y":-26,"v":5.7},{"x":34,"y":-26,"v":4.5},{"x":38,"y":-26,"v":1.5},{"x":42,"y":-26,"v":1.7},{"x":46,"y":-26,"v":1.9},{"x":50,"y":-26,"v":1},{"x":54,"y":-26,"v":0.9},{"x":58,"y":-26,"v":0.9},{"x":62,"y":-26,"v":0.8},{"x":66,"y":-26,"v":0.8},{"x":70,"y":-26,"v":0.8},{"x":74,"y":-26,"v":0.8},{"x":78,"y":-26,"v":0.8},{"x":82,"y":-26,"v":0.8},{"x":86,"y":-26,"v":0.8},{"x":90,"y":-26,"v":0.8},{"x":94,"y":-26,"v":0.9},{"x":98,"y":-26,"v":0.9},{"x":102,"y":-26,"v":0.9},{"x":106,"y":-26,"v":1},{"x":110,"y":-26,"v":1},{"x":114,"y":-26,"v":3.7},{"x":154,"y":-26,"v":1},{"x":158,"y":-26,"v":0.9},{"x":162,"y":-26,"v":0.9},{"x":166,"y":-26,"v":0.8},{"x":170,"y":-26,"v":0.8},{"x":174,"y":-26,"v":0.8},{"x":178,"y":-26,"v":0.8},{"x":182,"y":-26,"v":0.8},{"x":186,"y":-26,"v":0.8},{"x":190,"y":-26,"v":0.9},{"x":194,"y":-26,"v":0.9},{"x":198,"y":-26,"v":0.9},{"x":202,"y":-26,"v":0.9},{"x":206,"y":-26,"v":0.9},{"x":210,"y":-26,"v":0.8},{"x":214,"y":-26,"v":0.8},{"x":218,"y":-26,"v":0.8},{"x":222,"y":-26,"v":0.8},{"x":226,"y":-26,"v":0.9},{"x":230,"y":-26,"v":1},{"x":234,"y":-26,"v":1},{"x":238,"y":-26,"v":1},{"x":242,"y":-26,"v":1.1},{"x":246,"y":-26,"v":1.1},{"x":250,"y":-26,"v":1.1},{"x":254,"y":-26,"v":1.1},{"x":258,"y":-26,"v":1.1},{"x":262,"y":-26,"v":1.1},{"x":266,"y":-26,"v":1.1},{"x":270,"y":-26,"v":1.1},{"x":274,"y":-26,"v":1.1},{"x":278,"y":-26,"v":1.1},{"x":282,"y":-26,"v":1.1},{"x":286,"y":-26,"v":2.2},{"x":290,"y":-26,"v":6.5},{"x":314,"y":-26,"v":3.2},{"x":318,"y":-26,"v":0.9},{"x":322,"y":-26,"v":0.9},{"x":326,"y":-26,"v":0.9},{"x":330,"y":-26,"v":0.9},{"x":334,"y":-26,"v":1},{"x":338,"y":-26,"v":1},{"x":342,"y":-26,"v":1},{"x":346,"y":-26,"v":1.1},{"x":350,"y":-26,"v":1.1},{"x":354,"y":-26,"v":1.1},{"x":358,"y":-26,"v":1.1},
{"x":2,"y":-30,"v":1.5},{"x":6,"y":-30,"v":1.5},{"x":10,"y":-30,"v":1.6},{"x":14,"y":-30,"v":2},{"x":34,"y":-30,"v":1.2},{"x":38,"y":-30,"v":1.1},{"x":42,"y":-30,"v":1},{"x":46,"y":-30,"v":1},{"x":50,"y":-30,"v":1},{"x":54,"y":-30,"v":1},{"x":58,"y":-30,"v":1},{"x":62,"y":-30,"v":1},{"x":66,"y":-30,"v":1.2},{"x":70,"y":-30,"v":1.3},{"x":74,"y":-30,"v":1.4},{"x":78,"y":-30,"v":1.5},{"x":82,"y":-30,"v":1.5},{"x":86,"y":-30,"v":1.5},{"x":90,"y":-30,"v":1.5},{"x":94,"y":-30,"v":1.5},{"x":98,"y":-30,"v":1.5},{"x":102,"y":-30,"v":1.5},{"x":106,"y":-30,"v":1.3},{"x":110,"y":-30,"v":1.1},{"x":114,"y":-30,"v":1.5},{"x":154,"y":-30,"v":1.2},{"x":158,"y":-30,"v":1.1},{"x":162,"y":-30,"v":1},{"x":166,"y":-30,"v":1},{"x":170,"y":-30,"v":1},{"x":174,"y":-30,"v":1},{"x":178,"y":-30,"v":1.1},{"x":182,"y":-30,"v":1.1},{"x":186,"y":-30,"v":1.1},{"x":190,"y":-30,"v":1.1},{"x":194,"y":-30,"v":1},{"x":198,"y":-30,"v":1},{"x":202,"y":-30,"v":1},{"x":206,"y":-30,"v":1},{"x":210,"y":-30,"v":0.9},{"x":214,"y":-30,"v":0.9},{"x":218,"y":-30,"v":0.8},{"x":222,"y":-30,"v":0.9},{"x":226,"y":-30,"v":1},{"x":230,"y":-30,"v":1},{"x":234,"y":-30,"v":1},{"x":238,"y":-30,"v":1.1},{"x":242,"y":-30,"v":1.1},{"x":246,"y":-30,"v":1.1},{"x":250,"y":-30,"v":1.1},{"x":254,"y":-30,"v":1.1},{"x":258,"y":-30,"v":1.1},{"x":262,"y":-30,"v":1.1},{"x":266,"y":-30,"v":1.1},{"x":270,"y":-30,"v":1.1},{"x":274,"y":-30,"v":1.1},{"x":278,"y":-30,"v":1.1},{"x":282,"y":-30,"v":1.2},{"x":286,"y":-30,"v":1.9},{"x":290,"y":-30,"v":6.3},{"x":310,"y":-30,"v":1.9},{"x":314,"y":-30,"v":1.9},{"x":318,"y":-30,"v":1},{"x":322,"y":-30,"v":0.9},{"x":326,"y":-30,"v":1},{"x":330,"y":-30,"v":1},{"x":334,"y":-30,"v":1.1},{"x":338,"y":-30,"v":1.1},{"x":342,"y":-30,"v":1.2},{"x":346,"y":-30,"v":1.2},{"x":350,"y":-30,"v":1.2},{"x":354,"y":-30,"v":1.2},{"x":358,"y":-30,"v":1.2},
{"x":2,"y":-34,"v":1.5},{"x":6,"y":-34,"v":1.5},{"x":10,"y":-34,"v":1.5},{"x":14,"y":-34,"v":1.5},{"x":18,"y":-34,"v":3.6},{"x":22,"y":-34,"v":3},{"x":26,"y":-34,"v":4.2},{"x":30,"y":-34,"v":3},{"x":34,"y":-34,"v":0.9},{"x":38,"y":-34,"v":0.8},{"x":42,"y":-34,"v":0.9},{"x":46,"y":-34,"v":0.9},{"x":50,"y":-34,"v":1},{"x":54,"y":-34,"v":1.1},{"x":58,"y":-34,"v":1.1},{"x":62,"y":-34,"v":1.2},{"x":66,"y":-34,"v":1.3},{"x":70,"y":-34,"v":1.5},{"x":74,"y":-34,"v":1.6},{"x":78,"y":-34,"v":1.7},{"x":82,"y":-34,"v":1.8},{"x":86,"y":-34,"v":1.8},{"x":90,"y":-34,"v":1.9},{"x":94,"y":-34,"v":1.9},{"x":98,"y":-34,"v":2},{"x":102,"y":-34,"v":2},{"x":106,"y":-34,"v":2.2},{"x":110,"y":-34,"v":1},{"x":114,"y":-34,"v":1},{"x":118,"y":-34,"v":3.3},{"x":122,"y":-34,"v":3.3},{"x":126,"y":-34,"v":2.4},{"x":130,"y":-34,"v":1},{"x":134,"y":-34,"v":3.9},{"x":154,"y":-34,"v":1.6},{"x":158,"y":-34,"v":1.5},{"x":162,"y":-34,"v":1.4},{"x":166,"y":-34,"v":1.5},{"x":170,"y":-34,"v":1.7},{"x":174,"y":-34,"v":3.7},{"x":178,"y":-34,"v":1.2},{"x":182,"y":-34,"v":1.1},{"x":186,"y":-34,"v":1.2},{"x":190,"y":-34,"v":1.3},{"x":194,"y":-34,"v":1.4},{"x":198,"y":-34,"v":1.4},{"x":202,"y":-34,"v":1.5},{"x":206,"y":-34,"v":1.5},{"x":210,"y":-34,"v":1.4},{"x":214,"y":-34,"v":1.4},{"x":218,"y":-34,"v":1.3},{"x":222,"y":-34,"v":1.4},{"x":226,"y":-34,"v":1.4},{"x":230,"y":-34,"v":1.4},{"x":234,"y":-34,"v":1.4},{"x":238,"y":-34,"v":1.4},{"x":242,"y":-34,"v":1.4},{"x":246,"y":-34,"v":1.4},{"x":250,"y":-34,"v":1.4},{"x":254,"y":-34,"v":1.4},{"x":258,"y":-34,"v":1.4},{"x":262,"y":-34,"v":1.4},{"x":266,"y":-34,"v":1.4},{"x":270,"y":-34,"v":1.4},{"x":274,"y":-34,"v":1.4},{"x":278,"y":-34,"v":1.4},{"x":282,"y":-34,"v":1.4},{"x":286,"y":-34,"v":1.9},{"x":310,"y":-34,"v":1.2},{"x":314,"y":-34,"v":1.2},{"x":318,"y":-34,"v":1.2},{"x":322,"y":-34,"v":1.2},{"x":326,"y":-34,"v":1.3},{"x":330,"y":-34,"v":1.3},{"x":334,"y":-34,"v":1.3},{"x":338,"y":-34,"v":1.3},{"x":342,"y":-34,"v":1.3},{"x":346,"y":-34,"v":1.3},{"x":350,"y":-34,"v":1.3},{"x":354,"y":-34,"v":1.3},{"x":358,"y":-34,"v":1.3},
{"x":2,"y":-38,"v":1.3},{"x":6,"y":-38,"v":1.3},{"x":10,"y":-38,"v":1.2},{"x":14,"y":-38,"v":1.2},{"x":18,"y":-38,"v":1.2},{"x":22,"y":-38,"v":1.1},{"x":26,"y":-38,"v":1.1},{"x":30,"y":-38,"v":1},{"x":34,"y":-38,"v":0.9},{"x":38,"y":-38,"v":0.9},{"x":42,"y":-38,"v":0.9},{"x":46,"y":-38,"v":0.9},{"x":50,"y":-38,"v":0.8},{"x":54,"y":-38,"v":0.8},{"x":58,"y":-38,"v":0.9},{"x":62,"y":-38,"v":0.9},{"x":66,"y":-38,"v":0.9},{"x":70,"y":-38,"v":0.9},{"x":74,"y":-38,"v":0.9},{"x":78,"y":-38,"v":0.9},{"x":82,"y":-38,"v":0.9},{"x":86,"y":-38,"v":0.9},{"x":90,"y":-38,"v":0.9},{"x":94,"y":-38,"v":0.9},{"x":98,"y":-38,"v":1},{"x":102,"y":-38,"v":1},{"x":106,"y":-38,"v":1},{"x":110,"y":-38,"v":1},{"x":114,"y":-38,"v":1},{"x":118,"y":-38,"v":1},{"x":122,"y":-38,"v":1},{"x":126,"y":-38,"v":1},{"x":130,"y":-38,"v":1},{"x":134,"y":-38,"v":1},{"x":138,"y":-38,"v":1},{"x":150,"y":-38,"v":3},{"x":154,"y":-38,"v":1.2},{"x":158,"y":-38,"v":1.2},{"x":162,"y":-38,"v":1.2},{"x":166,"y":-38,"v":1.2},{"x":170,"y":-38,"v":1.2},{"x":178,"y":-38,"v":3.4},{"x":182,"y":-38,"v":1.3},{"x":186,"y":-38,"v":1.3},{"x":190,"y":-38,"v":1.4},{"x":194,"y":-38,"v":1.4},{"x":198,"y":-38,"v":1.4},{"x":202,"y":-38,"v":1.4},{"x":206,"y":-38,"v":1.4},{"x":210,"y":-38,"v":1.4},{"x":214,"y":-38,"v":1.4},{"x":218,"y":-38,"v":1.4},{"x":222,"y":-38,"v":1.4},{"x":226,"y":-38,"v":1.4},{"x":230,"y":-38,"v":1.4},{"x":234,"y":-38,"v":1.4},{"x":238,"y":-38,"v":1.4},{"x":242,"y":-38,"v":1.4},{"x":246,"y":-38,"v":1.4},{"x":250,"y":-38,"v":1.4},{"x":254,"y":-38,"v":1.4},{"x":258,"y":-38,"v":1.4},{"x":262,"y":-38,"v":1.4},{"x":266,"y":-38,"v":1.4},{"x":270,"y":-38,"v":1.4},{"x":274,"y":-38,"v":1.4},{"x":278,"y":-38,"v":1.4},{"x":282,"y":-38,"v":1.4},{"x":286,"y":-38,"v":3},{"x":306,"y":-38,"v":1.5},{"x":310,"y":-38,"v":1.6},{"x":314,"y":-38,"v":1.6},{"x":318,"y":-38,"v":1.6},{"x":322,"y":-38,"v":1.6},{"x":326,"y":-38,"v":1.6},{"x":330,"y":-38,"v":1.6},{"x":334,"y":-38,"v":1.6},{"x":338,"y":-38,"v":1.6},{"x":342,"y":-38,"v":1.6},{"x":346,"y":-38,"v":1.6},{"x":350,"y":-38,"v":1.6},{"x":354,"y":-38,"v":1.6},{"x":358,"y":-38,"v":1.6},
{"x":2,"y":-42,"v":1},{"x":6,"y":-42,"v":1},{"x":10,"y":-42,"v":1},{"x":14,"y":-42,"v":1},{"x":18,"y":-42,"v":1},{"x":22,"y":-42,"v":1},{"x":26,"y":-42,"v":1},{"x":30,"y":-42,"v":1},{"x":34,"y":-42,"v":1},{"x":38,"y":-42,"v":0.9},{"x":42,"y":-42,"v":0.9},{"x":46,"y":-42,"v":0.9},{"x":50,"y":-42,"v":0.9},{"x":54,"y":-42,"v":0.9},{"x":58,"y":-42,"v":0.9},{"x":62,"y":-42,"v":0.9},{"x":66,"y":-42,"v":0.9},{"x":70,"y":-42,"v":0.9},{"x":74,"y":-42,"v":0.9},{"x":78,"y":-42,"v":0.9},{"x":82,"y":-42,"v":0.9},{"x":86,"y":-42,"v":0.9},{"x":90,"y":-42,"v":0.9},{"x":94,"y":-42,"v":0.9},{"x":98,"y":-42,"v":0.9},{"x":102,"y":-42,"v":0.9},{"x":106,"y":-42,"v":0.9},{"x":110,"y":-42,"v":0.9},{"x":114,"y":-42,"v":0.9},{"x":118,"y":-42,"v":0.9},{"x":122,"y":-42,"v":0.9},{"x":126,"y":-42,"v":0.9},{"x":130,"y":-42,"v":0.9},{"x":134,"y":-42,"v":0.9},{"x":138,"y":-42,"v":0.9},{"x":142,"y":-42,"v":0.9},{"x":150,"y":-42,"v":2.5},{"x":154,"y":-42,"v":1.2},{"x":158,"y":-42,"v":1.2},{"x":162,"y":-42,"v":1.2},{"x":166,"y":-42,"v":1.2},{"x":170,"y":-42,"v":5.2},{"x":178,"y":-42,"v":2.9},{"x":182,"y":-42,"v":1.3},{"x":186,"y":-42,"v":1.3},{"x":190,"y":-42,"v":1.3},{"x":194,"y":-42,"v":1.3},{"x":198,"y":-42,"v":1.3},{"x":202,"y":-42,"v":1.3},{"x":206,"y":-42,"v":1.3},{"x":210,"y":-42,"v":1.3},{"x":214,"y":-42,"v":1.3},{"x":218,"y":-42,"v":1.3},{"x":222,"y":-42,"v":1.3},{"x":226,"y":-42,"v":1.3},{"x":230,"y":-42,"v":1.3},{"x":234,"y":-42,"v":1.3},{"x":238,"y":-42,"v":1.3},{"x":242,"y":-42,"v":1.3},{"x":246,"y":-42,"v":1.3},{"x":250,"y":-42,"v":1.3},{"x":254,"y":-42,"v":1.3},{"x":258,"y":-42,"v":1.3},{"x":262,"y":-42,"v":1.3},{"x":266,"y":-42,"v":1.3},{"x":270,"y":-42,"v":1.3},{"x":274,"y":-42,"v":1.3},{"x":278,"y":-42,"v":1.3},{"x":282,"y":-42,"v":1.3},{"x":286,"y":-42,"v":2.9},{"x":298,"y":-42,"v":1.4},{"x":302,"y":-42,"v":4.2},{"x":306,"y":-42,"v":1.5},{"x":310,"y":-42,"v":1.5},{"x":314,"y":-42,"v":1.5},{"x":318,"y":-42,"v":1.5},{"x":322,"y":-42,"v":1.5},{"x":326,"y":-42,"v":1.5},{"x":330,"y":-42,"v":1.5},{"x":334,"y":-42,"v":1.5},{"x":338,"y":-42,"v":1.5},{"x":342,"y":-42,"v":1.5},{"x":346,"y":-42,"v":1.5},{"x":350,"y":-42,"v":1.5},{"x":354,"y":-42,"v":1.5},{"x":358,"y":-42,"v":1.5},
{"x":2,"y":-46,"v":0.9},{"x":6,"y":-46,"v":0.9},{"x":10,"y":-46,"v":0.9},{"x":14,"y":-46,"v":0.9},{"x":18,"y":-46,"v":0.9},{"x":22,"y":-46,"v":0.9},{"x":26,"y":-46,"v":0.9},{"x":30,"y":-46,"v":0.9},{"x":34,"y":-46,"v":0.9},{"x":38,"y":-46,"v":0.9},{"x":42,"y":-46,"v":0.9},{"x":46,"y":-46,"v":0.9},{"x":50,"y":-46,"v":0.9},{"x":54,"y":-46,"v":0.9},{"x":58,"y":-46,"v":0.9},{"x":62,"y":-46,"v":0.9},{"x":66,"y":-46,"v":0.9},{"x":70,"y":-46,"v":0.9},{"x":74,"y":-46,"v":0.9},{"x":78,"y":-46,"v":0.9},{"x":82,"y":-46,"v":0.9},{"x":86,"y":-46,"v":0.9},{"x":90,"y":-46,"v":0.9},{"x":94,"y":-46,"v":0.9},{"x":98,"y":-46,"v":0.9},{"x":102,"y":-46,"v":0.9},{"x":106,"y":-46,"v":0.9},{"x":110,"y":-46,"v":0.9},{"x":114,"y":-46,"v":0.9},{"x":118,"y":-46,"v":0.9},{"x":122,"y":-46,"v":0.9},{"x":126,"y":-46,"v":0.9},{"x":130,"y":-46,"v":0.9},{"x":134,"y":-46,"v":0.9},{"x":138,"y":-46,"v":0.9},{"x":142,"y":-46,"v":0.9},{"x":146,"y":-46,"v":0.9},{"x":150,"y":-46,"v":0.9},{"x":154,"y":-46,"v":0.9},{"x":158,"y":-46,"v":0.9},{"x":162,"y":-46,"v":0.9},{"x":170,"y":-46,"v":3.5},{"x":178,"y":-46,"v":2.2},{"x":182,"y":-46,"v":1},{"x":186,"y":-46,"v":1},{"x":190,"y":-46,"v":1},{"x":194,"y":-46,"v":1},{"x":198,"y":-46,"v":1},{"x":202,"y":-46,"v":1},{"x":206,"y":-46,"v":1},{"x":210,"y":-46,"v":1},{"x":214,"y":-46,"v":1},{"x":218,"y":-46,"v":1},{"x":222,"y":-46,"v":1},{"x":226,"y":-46,"v":1},{"x":230,"y":-46,"v":1},{"x":234,"y":-46,"v":1},{"x":238,"y":-46,"v":1},{"x":242,"y":-46,"v":1},{"x":246,"y":-46,"v":1},{"x":250,"y":-46,"v":1},{"x":254,"y":-46,"v":1},{"x":258,"y":-46,"v":1},{"x":262,"y":-46,"v":1},{"x":266,"y":-46,"v":1},{"x":270,"y":-46,"v":1},{"x":274,"y":-46,"v":1},{"x":278,"y":-46,"v":1},{"x":282,"y":-46,"v":1},{"x":286,"y":-46,"v":5.7},{"x":294,"y":-46,"v":1.6},{"x":298,"y":-46,"v":1},{"x":302,"y":-46,"v":1.5},{"x":306,"y":-46,"v":1.5},{"x":310,"y":-46,"v":1.5},{"x":314,"y":-46,"v":1.5},{"x":318,"y":-46,"v":1.5},{"x":322,"y":-46,"v":1.5},{"x":326,"y":-46,"v":1.5},{"x":330,"y":-46,"v":1.5},{"x":334,"y":-46,"v":1.5},{"x":338,"y":-46,"v":1.5},{"x":342,"y":-46,"v":1.5},{"x":346,"y":-46,"v":1.5},{"x":350,"y":-46,"v":1.5},{"x":354,"y":-46,"v":1.5},{"x":358,"y":-46,"v":1.5},
{"x":2,"y":-50,"v":1.2},{"x":6,"y":-50,"v":1.2},{"x":10,"y":-50,"v":1.1},{"x":14,"y":-50,"v":1.1},{"x":18,"y":-50,"v":1},{"x":22,"y":-50,"v":1},{"x":26,"y":-50,"v":1},{"x":30,"y":-50,"v":1},{"x":34,"y":-50,"v":1},{"x":38,"y":-50,"v":0.9},{"x":42,"y":-50,"v":0.9},{"x":46,"y":-50,"v":0.9},{"x":50,"y":-50,"v":0.9},{"x":54,"y":-50,"v":0.9},{"x":58,"y":-50,"v":0.9},{"x":62,"y":-50,"v":0.9},{"x":66,"y":-50,"v":0.9},{"x":70,"y":-50,"v":3},{"x":74,"y":-50,"v":0.9},{"x":78,"y":-50,"v":0.9},{"x":82,"y":-50,"v":0.9},{"x":86,"y":-50,"v":0.9},{"x":90,"y":-50,"v":0.9},{"x":94,"y":-50,"v":0.9},{"x":98,"y":-50,"v":0.9},{"x":102,"y":-50,"v":0.9},{"x":106,"y":-50,"v":0.9},{"x":110,"y":-50,"v":0.9},{"x":114,"y":-50,"v":0.9},{"x":118,"y":-50,"v":0.9},{"x":122,"y":-50,"v":0.9},{"x":126,"y":-50,"v":0.9},{"x":130,"y":-50,"v":0.9},{"x":134,"y":-50,"v":0.9},{"x":138,"y":-50,"v":0.9},{"x":142,"y":-50,"v":0.9},{"x":146,"y":-50,"v":0.9},{"x":150,"y":-50,"v":0.9},{"x":154,"y":-50,"v":1},{"x":158,"y":-50,"v":1},{"x":162,"y":-50,"v":1},{"x":166,"y":-50,"v":1},{"x":170,"y":-50,"v":1},{"x":174,"y":-50,"v":1},{"x":178,"y":-50,"v":1},{"x":182,"y":-50,"v":1.1},{"x":186,"y":-50,"v":1.1},{"x":190,"y":-50,"v":1.1},{"x":194,"y":-50,"v":1.1},{"x":198,"y":-50,"v":1.1},{"x":202,"y":-50,"v":1.1},{"x":206,"y":-50,"v":1.1},{"x":210,"y":-50,"v":1.1},{"x":214,"y":-50,"v":1.1},{"x":218,"y":-50,"v":1.1},{"x":222,"y":-50,"v":1.1},{"x":226,"y":-50,"v":1.1},{"x":230,"y":-50,"v":1.1},{"x":234,"y":-50,"v":1.1},{"x":238,"y":-50,"v":1.1},{"x":242,"y":-50,"v":1.1},{"x":246,"y":-50,"v":1.1},{"x":250,"y":-50,"v":1.1},{"x":254,"y":-50,"v":1.1},{"x":258,"y":-50,"v":1.1},{"x":262,"y":-50,"v":1.1},{"x":266,"y":-50,"v":1.1},{"x":270,"y":-50,"v":1.1},{"x":274,"y":-50,"v":1.1},{"x":278,"y":-50,"v":1.1},{"x":282,"y":-50,"v":1.1},{"x":286,"y":-50,"v":4.3},{"x":294,"y":-50,"v":2.5},{"x":298,"y":-50,"v":1.7},{"x":302,"y":-50,"v":1.7},{"x":306,"y":-50,"v":1.7},{"x":310,"y":-50,"v":1.7},{"x":314,"y":-50,"v":1.7},{"x":318,"y":-50,"v":1.7},{"x":322,"y":-50,"v":1.7},{"x":326,"y":-50,"v":1.7},{"x":330,"y":-50,"v":1.6},{"x":334,"y":-50,"v":1.6},{"x":338,"y":-50,"v":1.6},{"x":342,"y":-50,"v":1.6},{"x":346,"y":-50,"v":1.6},{"x":350,"y":-50,"v":1.6},{"x":354,"y":-50,"v":1.6},{"x":358,"y":-50,"v":1.6},
{"x":2,"y":-54,"v":1.4},{"x":6,"y":-54,"v":1.4},{"x":10,"y":-54,"v":1.4},{"x":14,"y":-54,"v":1.4},{"x":18,"y":-54,"v":1.4},{"x":22,"y":-54,"v":1.4},{"x":26,"y":-54,"v":1.3},{"x":30,"y":-54,"v":1.3},{"x":34,"y":-54,"v":1.3},{"x":38,"y":-54,"v":1.3},{"x":42,"y":-54,"v":1.3},{"x":46,"y":-54,"v":1.3},{"x":50,"y":-54,"v":1.3},{"x":54,"y":-54,"v":1.2},{"x":58,"y":-54,"v":1.2},{"x":62,"y":-54,"v":1.2},{"x":66,"y":-54,"v":1.2},{"x":70,"y":-54,"v":1.2},{"x":74,"y":-54,"v":1.2},{"x":78,"y":-54,"v":1.2},{"x":82,"y":-54,"v":1.2},{"x":86,"y":-54,"v":1.2},{"x":90,"y":-54,"v":1.2},{"x":94,"y":-54,"v":1.2},{"x":98,"y":-54,"v":1.2},{"x":102,"y":-54,"v":1.2},{"x":106,"y":-54,"v":1.2},{"x":110,"y":-54,"v":1.1},{"x":114,"y":-54,"v":1.1},{"x":118,"y":-54,"v":1.1},{"x":122,"y":-54,"v":1.1},{"x":126,"y":-54,"v":1.1},{"x":130,"y":-54,"v":1.1},{"x":134,"y":-54,"v":1.1},{"x":138,"y":-54,"v":1.1},{"x":142,"y":-54,"v":1.1},{"x":146,"y":-54,"v":1.1},{"x":150,"y":-54,"v":1.1},{"x":154,"y":-54,"v":1.1},{"x":158,"y":-54,"v":1.1},{"x":162,"y":-54,"v":1.1},{"x":166,"y":-54,"v":1.1},{"x":170,"y":-54,"v":1.1},{"x":174,"y":-54,"v":1.1},{"x":178,"y":-54,"v":1.1},{"x":182,"y":-54,"v":1.3},{"x":186,"y":-54,"v":1.3},{"x":190,"y":-54,"v":1.3},{"x":194,"y":-54,"v":1.3},{"x":198,"y":-54,"v":1.3},{"x":202,"y":-54,"v":1.3},{"x":206,"y":-54,"v":1.3},{"x":210,"y":-54,"v":1.3},{"x":214,"y":-54,"v":1.3},{"x":218,"y":-54,"v":1.3},{"x":222,"y":-54,"v":1.3},{"x":226,"y":-54,"v":1.3},{"x":230,"y":-54,"v":1.3},{"x":234,"y":-54,"v":1.3},{"x":238,"y":-54,"v":1.3},{"x":242,"y":-54,"v":1.3},{"x":246,"y":-54,"v":1.3},{"x":250,"y":-54,"v":1.3},{"x":254,"y":-54,"v":1.3},{"x":258,"y":-54,"v":1.3},{"x":262,"y":-54,"v":1.3},{"x":266,"y":-54,"v":1.3},{"x":270,"y":-54,"v":1.3},{"x":274,"y":-54,"v":1.3},{"x":278,"y":-54,"v":1.3},{"x":282,"y":-54,"v":1.3},{"x":286,"y":-54,"v":1.6},{"x":290,"y":-54,"v":2.7},{"x":294,"y":-54,"v":1.5},{"x":298,"y":-54,"v":1.5},{"x":302,"y":-54,"v":1.5},{"x":306,"y":-54,"v":1.5},{"x":310,"y":-54,"v":1.5},{"x":314,"y":-54,"v":1.5},{"x":318,"y":-54,"v":1.5},{"x":322,"y":-54,"v":1.5},{"x":326,"y":-54,"v":1.5},{"x":330,"y":-54,"v":1.5},{"x":334,"y":-54,"v":1.5},{"x":338,"y":-54,"v":1.5},{"x":342,"y":-54,"v":1.5},{"x":346,"y":-54,"v":1.5},{"x":350,"y":-54,"v":1.5},{"x":354,"y":-54,"v":1.5},{"x":358,"y":-54,"v":1.5},
{"x":2,"y":-58,"v":1.5},{"x":6,"y":-58,"v":1.5},{"x":10,"y":-58,"v":1.5},{"x":14,"y":-58,"v":1.5},{"x":18,"y":-58,"v":1.5},{"x":22,"y":-58,"v":1.5},{"x":26,"y":-58,"v":1.5},{"x":30,"y":-58,"v":1.5},{"x":34,"y":-58,"v":1.5},{"x":38,"y":-58,"v":1.5},{"x":42,"y":-58,"v":1.5},{"x":46,"y":-58,"v":1.5},{"x":50,"y":-58,"v":1.5},{"x":54,"y":-58,"v":1.5},{"x":58,"y":-58,"v":1.5},{"x":62,"y":-58,"v":1.5},{"x":66,"y":-58,"v":1.5},{"x":70,"y":-58,"v":1.5},{"x":74,"y":-58,"v":1.5},{"x":78,"y":-58,"v":1.5},{"x":82,"y":-58,"v":1.5},{"x":86,"y":-58,"v":1.5},{"x":90,"y":-58,"v":1.5},{"x":94,"y":-58,"v":1.5},{"x":98,"y":-58,"v":1.5},{"x":102,"y":-58,"v":1.5},{"x":106,"y":-58,"v":1.5},{"x":110,"y":-58,"v":1.5},{"x":114,"y":-58,"v":1.5},{"x":118,"y":-58,"v":1.5},{"x":122,"y":-58,"v":1.5},{"x":126,"y":-58,"v":1.5},{"x":130,"y":-58,"v":1.4},{"x":134,"y":-58,"v":1.4},{"x":138,"y":-58,"v":1.4},{"x":142,"y":-58,"v":1.4},{"x":146,"y":-58,"v":1.4},{"x":150,"y":-58,"v":1.4},{"x":154,"y":-58,"v":1.4},{"x":158,"y":-58,"v":1.4},{"x":162,"y":-58,"v":1.4},{"x":166,"y":-58,"v":1.4},{"x":170,"y":-58,"v":1.3},{"x":174,"y":-58,"v":1.3},{"x":178,"y":-58,"v":1.3},{"x":182,"y":-58,"v":1.2},{"x":186,"y":-58,"v":1.2},{"x":190,"y":-58,"v":1.2},{"x":194,"y":-58,"v":1.2},{"x":198,"y":-58,"v":1.2},{"x":202,"y":-58,"v":1.2},{"x":206,"y":-58,"v":1.2},{"x":210,"y":-58,"v":1.2},{"x":214,"y":-58,"v":1.2},{"x":218,"y":-58,"v":1.2},{"x":222,"y":-58,"v":1.2},{"x":226,"y":-58,"v":1.2},{"x":230,"y":-58,"v":1.2},{"x":234,"y":-58,"v":1.2},{"x":238,"y":-58,"v":1.2},{"x":242,"y":-58,"v":1.2},{"x":246,"y":-58,"v":1.2},{"x":250,"y":-58,"v":1.2},{"x":254,"y":-58,"v":1.2},{"x":258,"y":-58,"v":1.2},{"x":262,"y":-58,"v":1.2},{"x":266,"y":-58,"v":1.2},{"x":270,"y":-58,"v":1.2},{"x":274,"y":-58,"v":1.2},{"x":278,"y":-58,"v":1.2},{"x":282,"y":-58,"v":1.2},{"x":286,"y":-58,"v":1.3},{"x":290,"y":-58,"v":1.3},{"x":294,"y":-58,"v":1.3},{"x":298,"y":-58,"v":1.3},{"x":302,"y":-58,"v":1.3},{"x":306,"y":-58,"v":1.3},{"x":310,"y":-58,"v":1.3},{"x":314,"y":-58,"v":1.3},{"x":318,"y":-58,"v":1.3},{"x":322,"y":-58,"v":1.3},{"x":326,"y":-58,"v":1.3},{"x":330,"y":-58,"v":1.3},{"x":334,"y":-58,"v":1.3},{"x":338,"y":-58,"v":1.3},{"x":342,"y":-58,"v":1.3},{"x":346,"y":-58,"v":1.3},{"x":350,"y":-58,"v":1.3},{"x":354,"y":-58,"v":1.3},{"x":358,"y":-58,"v":1.3},
{"x":2,"y":-62,"v":1.9},{"x":6,"y":-62,"v":1.9},{"x":10,"y":-62,"v":1.9},{"x":14,"y":-62,"v":2},{"x":18,"y":-62,"v":2},{"x":22,"y":-62,"v":2},{"x":26,"y":-62,"v":2},{"x":30,"y":-62,"v":2},{"x":34,"y":-62,"v":2},{"x":38,"y":-62,"v":2.1},{"x":42,"y":-62,"v":2.2},{"x":46,"y":-62,"v":2.2},{"x":50,"y":-62,"v":2.2},{"x":54,"y":-62,"v":2.2},{"x":58,"y":-62,"v":2.3},{"x":62,"y":-62,"v":2.3},{"x":66,"y":-62,"v":2.3},{"x":70,"y":-62,"v":2.3},{"x":74,"y":-62,"v":2.3},{"x":78,"y":-62,"v":2.3},{"x":82,"y":-62,"v":2.3},{"x":86,"y":-62,"v":2.4},{"x":90,"y":-62,"v":2.4},{"x":94,"y":-62,"v":2.4},{"x":98,"y":-62,"v":2.3},{"x":102,"y":-62,"v":2.3},{"x":106,"y":-62,"v":2.3},{"x":110,"y":-62,"v":2.3},{"x":114,"y":-62,"v":2.2},{"x":118,"y":-62,"v":2.2},{"x":122,"y":-62,"v":2.2},{"x":126,"y":-62,"v":2.1},{"x":130,"y":-62,"v":2},{"x":134,"y":-62,"v":2},{"x":138,"y":-62,"v":2},{"x":142,"y":-62,"v":1.9},{"x":146,"y":-62,"v":1.9},{"x":150,"y":-62,"v":1.9},{"x":154,"y":-62,"v":1.9},{"x":158,"y":-62,"v":1.9},{"x":162,"y":-62,"v":1.9},{"x":166,"y":-62,"v":1.9},{"x":170,"y":-62,"v":1.9},{"x":174,"y":-62,"v":1.9},{"x":178,"y":-62,"v":1.9},{"x":182,"y":-62,"v":1.9},{"x":186,"y":-62,"v":1.9},{"x":190,"y":-62,"v":1.9},{"x":194,"y":-62,"v":1.9},{"x":198,"y":-62,"v":1.9},{"x":202,"y":-62,"v":1.9},{"x":206,"y":-62,"v":1.9},{"x":210,"y":-62,"v":1.9},{"x":214,"y":-62,"v":1.9},{"x":218,"y":-62,"v":1.9},{"x":222,"y":-62,"v":1.9},{"x":226,"y":-62,"v":1.9},{"x":230,"y":-62,"v":2},{"x":234,"y":-62,"v":2},{"x":238,"y":-62,"v":2},{"x":242,"y":-62,"v":2},{"x":246,"y":-62,"v":2},{"x":250,"y":-62,"v":2},{"x":254,"y":-62,"v":2},{"x":258,"y":-62,"v":2},{"x":262,"y":-62,"v":2},{"x":266,"y":-62,"v":2.1},{"x":270,"y":-62,"v":2.1},{"x":274,"y":-62,"v":2.1},{"x":278,"y":-62,"v":2.1},{"x":282,"y":-62,"v":2.1},{"x":286,"y":-62,"v":2.1},{"x":290,"y":-62,"v":2.2},{"x":294,"y":-62,"v":2.3},{"x":298,"y":-62,"v":3.4},{"x":302,"y":-62,"v":4.4},{"x":306,"y":-62,"v":2},{"x":310,"y":-62,"v":2},{"x":314,"y":-62,"v":2},{"x":318,"y":-62,"v":2},{"x":322,"y":-62,"v":2},{"x":326,"y":-62,"v":2},{"x":330,"y":-62,"v":2},{"x":334,"y":-62,"v":2},{"x":338,"y":-62,"v":2},{"x":342,"y":-62,"v":2},{"x":346,"y":-62,"v":2},{"x":350,"y":-62,"v":2},{"x":354,"y":-62,"v":2},{"x":358,"y":-62,"v":2},
{"x":2,"y":-66,"v":2.5},{"x":6,"y":-66,"v":2.7},{"x":10,"y":-66,"v":2.5},{"x":14,"y":-66,"v":2.6},{"x":18,"y":-66,"v":2.5},{"x":22,"y":-66,"v":2.4},{"x":26,"y":-66,"v":2.4},{"x":30,"y":-66,"v":2.3},{"x":34,"y":-66,"v":2.2},{"x":38,"y":-66,"v":2},{"x":42,"y":-66,"v":2},{"x":46,"y":-66,"v":1.9},{"x":50,"y":-66,"v":1.5},{"x":54,"y":-66,"v":3},{"x":58,"y":-66,"v":1.2},{"x":62,"y":-66,"v":1.5},{"x":66,"y":-66,"v":1.6},{"x":70,"y":-66,"v":2},{"x":74,"y":-66,"v":2.8},{"x":78,"y":-66,"v":1.9},{"x":82,"y":-66,"v":1.1},{"x":86,"y":-66,"v":1.2},{"x":90,"y":-66,"v":1.2},{"x":94,"y":-66,"v":3.5},{"x":98,"y":-66,"v":3.4},{"x":102,"y":-66,"v":2.5},{"x":106,"y":-66,"v":2.4},{"x":110,"y":-66,"v":3.4},{"x":114,"y":-66,"v":1.8},{"x":118,"y":-66,"v":1.1},{"x":122,"y":-66,"v":1.1},{"x":126,"y":-66,"v":1.1},{"x":130,"y":-66,"v":2},{"x":134,"y":-66,"v":2.8},{"x":138,"y":-66,"v":2.8},{"x":142,"y":-66,"v":1.7},{"x":146,"y":-66,"v":1.7},{"x":150,"y":-66,"v":1.5},{"x":154,"y":-66,"v":1.5},{"x":158,"y":-66,"v":1.7},{"x":162,"y":-66,"v":1.8},{"x":166,"y":-66,"v":1.9},{"x":170,"y":-66,"v":2},{"x":174,"y":-66,"v":2.1},{"x":178,"y":-66,"v":2.2},{"x":182,"y":-66,"v":2.3},{"x":186,"y":-66,"v":2.3},{"x":190,"y":-66,"v":2.3},{"x":194,"y":-66,"v":2.3},{"x":198,"y":-66,"v":2.3},{"x":202,"y":-66,"v":2.3},{"x":206,"y":-66,"v":2.3},{"x":210,"y":-66,"v":2.3},{"x":214,"y":-66,"v":2.3},{"x":218,"y":-66,"v":2.3},{"x":222,"y":-66,"v":2.3},{"x":226,"y":-66,"v":2.3},{"x":230,"y":-66,"v":2.3},{"x":234,"y":-66,"v":2.3},{"x":238,"y":-66,"v":2.4},{"x":242,"y":-66,"v":2.4},{"x":246,"y":-66,"v":2.5},{"x":250,"y":-66,"v":2.5},{"x":254,"y":-66,"v":2.5},{"x":258,"y":-66,"v":2.5},{"x":262,"y":-66,"v":2.6},{"x":266,"y":-66,"v":2.6},{"x":270,"y":-66,"v":2.6},{"x":274,"y":-66,"v":2.6},{"x":278,"y":-66,"v":2.6},{"x":282,"y":-66,"v":2.6},{"x":286,"y":-66,"v":2.6},{"x":290,"y":-66,"v":2.6},{"x":294,"y":-66,"v":3.6},{"x":306,"y":-66,"v":1.2},{"x":310,"y":-66,"v":1.2},{"x":314,"y":-66,"v":2},{"x":318,"y":-66,"v":2},{"x":322,"y":-66,"v":2.2},{"x":326,"y":-66,"v":2.4},{"x":330,"y":-66,"v":2.5},{"x":334,"y":-66,"v":2.6},{"x":338,"y":-66,"v":2.8},{"x":342,"y":-66,"v":2.8},{"x":346,"y":-66,"v":2.7},{"x":350,"y":-66,"v":2.4},{"x":354,"y":-66,"v":2.5},{"x":358,"y":-66,"v":2.5},
{"x":2,"y":-70,"v":3.4},{"x":6,"y":-70,"v":3.1},{"x":10,"y":-70,"v":2.9},{"x":14,"y":-70,"v":2.7},{"x":18,"y":-70,"v":2.7},{"x":22,"y":-70,"v":2.6},{"x":26,"y":-70,"v":2.5},{"x":30,"y":-70,"v":2.5},{"x":34,"y":-70,"v":2.4},{"x":38,"y":-70,"v":2.2},{"x":154,"y":-70,"v":1.6},{"x":158,"y":-70,"v":1.7},{"x":162,"y":-70,"v":1.8},{"x":166,"y":-70,"v":2.2},{"x":170,"y":-70,"v":2},{"x":174,"y":-70,"v":2},{"x":178,"y":-70,"v":2.1},{"x":182,"y":-70,"v":1.9},{"x":186,"y":-70,"v":1.9},{"x":190,"y":-70,"v":1.9},{"x":194,"y":-70,"v":1.9},{"x":198,"y":-70,"v":1.9},{"x":202,"y":-70,"v":1.9},{"x":206,"y":-70,"v":1.9},{"x":210,"y":-70,"v":1.9},{"x":214,"y":-70,"v":1.8},{"x":218,"y":-70,"v":1.8},{"x":222,"y":-70,"v":1.8},{"x":226,"y":-70,"v":1.8},{"x":230,"y":-70,"v":1.7},{"x":234,"y":-70,"v":1.7},{"x":238,"y":-70,"v":1.7},{"x":242,"y":-70,"v":1.7},{"x":246,"y":-70,"v":1.7},{"x":250,"y":-70,"v":1.7},{"x":254,"y":-70,"v":1.7},{"x":258,"y":-70,"v":1.7},{"x":262,"y":-70,"v":1.7},{"x":266,"y":-70,"v":1.7},{"x":270,"y":-70,"v":1.7},{"x":274,"y":-70,"v":1.7},{"x":278,"y":-70,"v":1.7},{"x":282,"y":-70,"v":1.8},{"x":286,"y":-70,"v":2.7},{"x":290,"y":-70,"v":2.7},{"x":302,"y":-70,"v":1},{"x":306,"y":-70,"v":0.9},{"x":310,"y":-70,"v":1.3},{"x":314,"y":-70,"v":1.8},{"x":318,"y":-70,"v":2.4},{"x":322,"y":-70,"v":2.8},{"x":326,"y":-70,"v":2.9},{"x":330,"y":-70,"v":2.7},{"x":334,"y":-70,"v":2.6},{"x":338,"y":-70,"v":2.6},{"x":342,"y":-70,"v":2.6},{"x":346,"y":-70,"v":2.7},{"x":350,"y":-70,"v":3.5},{"x":354,"y":-70,"v":3.5},{"x":358,"y":-70,"v":3.7},
{"x":170,"y":-74,"v":2.9},{"x":174,"y":-74,"v":2.9},{"x":178,"y":-74,"v":2.9},{"x":182,"y":-74,"v":1.7},{"x":186,"y":-74,"v":1.2},{"x":190,"y":-74,"v":1.3},{"x":194,"y":-74,"v":1.2},{"x":198,"y":-74,"v":1.2},{"x":202,"y":-74,"v":1.2},{"x":206,"y":-74,"v":1.1},{"x":210,"y":-74,"v":1},{"x":214,"y":-74,"v":1},{"x":218,"y":-74,"v":0.9},{"x":222,"y":-74,"v":0.9},{"x":226,"y":-74,"v":0.9},{"x":230,"y":-74,"v":2.5},{"x":234,"y":-74,"v":2.5},{"x":238,"y":-74,"v":1.7},{"x":242,"y":-74,"v":2.1},{"x":246,"y":-74,"v":2.8},{"x":250,"y":-74,"v":2.8},{"x":254,"y":-74,"v":2.8},{"x":266,"y":-74,"v":1.1},{"x":270,"y":-74,"v":1.7},{"x":274,"y":-74,"v":2.4},{"x":278,"y":-74,"v":2.4},{"x":302,"y":-74,"v":1},{"x":306,"y":-74,"v":0.9},{"x":310,"y":-74,"v":0.8},{"x":314,"y":-74,"v":0.8},{"x":318,"y":-74,"v":1},{"x":322,"y":-74,"v":1.6},{"x":326,"y":-74,"v":2.1},{"x":330,"y":-74,"v":2.4},{"x":334,"y":-74,"v":2.5},{"x":338,"y":-74,"v":2.4},{"x":342,"y":-74,"v":2.4},{"x":346,"y":-74,"v":1.5}
]},
"mark":{"type":"rect","width":4.87,"height":12.4},
"encoding":{"x":{"field":"x","type":"quantitative","scale":{"domain":[0,360],"nice":false},"axis":{"values":[0,100,200,300],"tickSize":-5,"tickWidth":3,"labelFontSize":19,"labelPadding":18,"title":null,"zindex":1}},
"y":{"field":"y","type":"quantitative","scale":{"domain":[-80,80],"nice":false},"axis":{"values":[-80,-60,-40,-20,0,20,40,60,80],"tickSize":-5,"tickWidth":3,"labelFontSize":19,"labelPadding":13,"title":null,"zindex":1}},
"color":{"field":"v","type":"quantitative","scale":{"domain":[0,1,3,5,7,8],"range":["#00007f","#0000ff","#00ffff","#ffff00","#ff0000","#7f0000"]},"legend":null}}},
{"data":{"values":[{"x":100,"y":0}]},"mark":{"type":"point","opacity":0},
"encoding":{"x":{"field":"x","type":"quantitative","axis":{"orient":"top","values":[100,200,300],"labels":false,"tickSize":-5,"tickWidth":3,"title":null,"zindex":1}},
"y":{"field":"y","type":"quantitative","axis":{"orient":"right","values":[-60,-40,-20,0,20,40,60],"labels":false,"tickSize":-5,"tickWidth":3,"title":null,"zindex":1}}}},
{"data":{"values":[{"x":-64.5,"y":88.5,"t":"B"},{"x":-64.5,"y":76.1,"t":"(O1)"}]},"mark":{"type":"text","align":"left","fontWeight":"bold","fontSize":30,"color":"#111","clip":false},"encoding":{"x":{"field":"x","type":"quantitative","axis":null},"y":{"field":"y","type":"quantitative","axis":null},"text":{"field":"t"}}},
{"data":{"values":[{"x":180,"y":91.7,"t":"[O₂] (depth 0−50m) μM"}]},"mark":{"type":"text","align":"center","fontSize":24.5,"color":"#111","clip":false},"encoding":{"x":{"field":"x","type":"quantitative","axis":null},"y":{"field":"y","type":"quantitative","axis":null},"text":{"field":"t"}}}
]},
{"width":62,"height":494,"resolve":{"axis":{"y":"independent"}},
"layer":[
{"data":{"values":[{"a":0,"b":0.125,"c":0.06,"l":0,"r":1},{"a":0.125,"b":0.25,"c":0.19,"l":0,"r":1},{"a":0.25,"b":0.375,"c":0.31,"l":0,"r":1},{"a":0.375,"b":0.5,"c":0.44,"l":0,"r":1},{"a":0.5,"b":0.625,"c":0.56,"l":0,"r":1},{"a":0.625,"b":0.75,"c":0.69,"l":0,"r":1},{"a":0.75,"b":0.875,"c":0.81,"l":0,"r":1},{"a":0.875,"b":1,"c":0.94,"l":0,"r":1},{"a":1,"b":1.125,"c":1.06,"l":0,"r":1},{"a":1.125,"b":1.25,"c":1.19,"l":0,"r":1},{"a":1.25,"b":1.375,"c":1.31,"l":0,"r":1},{"a":1.375,"b":1.5,"c":1.44,"l":0,"r":1},{"a":1.5,"b":1.625,"c":1.56,"l":0,"r":1},{"a":1.625,"b":1.75,"c":1.69,"l":0,"r":1},{"a":1.75,"b":1.875,"c":1.81,"l":0,"r":1},{"a":1.875,"b":2,"c":1.94,"l":0,"r":1},{"a":2,"b":2.125,"c":2.06,"l":0,"r":1},{"a":2.125,"b":2.25,"c":2.19,"l":0,"r":1},{"a":2.25,"b":2.375,"c":2.31,"l":0,"r":1},{"a":2.375,"b":2.5,"c":2.44,"l":0,"r":1},{"a":2.5,"b":2.625,"c":2.56,"l":0,"r":1},{"a":2.625,"b":2.75,"c":2.69,"l":0,"r":1},{"a":2.75,"b":2.875,"c":2.81,"l":0,"r":1},{"a":2.875,"b":3,"c":2.94,"l":0,"r":1},{"a":3,"b":3.125,"c":3.06,"l":0,"r":1},{"a":3.125,"b":3.25,"c":3.19,"l":0,"r":1},{"a":3.25,"b":3.375,"c":3.31,"l":0,"r":1},{"a":3.375,"b":3.5,"c":3.44,"l":0,"r":1},{"a":3.5,"b":3.625,"c":3.56,"l":0,"r":1},{"a":3.625,"b":3.75,"c":3.69,"l":0,"r":1},{"a":3.75,"b":3.875,"c":3.81,"l":0,"r":1},{"a":3.875,"b":4,"c":3.94,"l":0,"r":1},{"a":4,"b":4.125,"c":4.06,"l":0,"r":1},{"a":4.125,"b":4.25,"c":4.19,"l":0,"r":1},{"a":4.25,"b":4.375,"c":4.31,"l":0,"r":1},{"a":4.375,"b":4.5,"c":4.44,"l":0,"r":1},{"a":4.5,"b":4.625,"c":4.56,"l":0,"r":1},{"a":4.625,"b":4.75,"c":4.69,"l":0,"r":1},{"a":4.75,"b":4.875,"c":4.81,"l":0,"r":1},{"a":4.875,"b":5,"c":4.94,"l":0,"r":1},{"a":5,"b":5.125,"c":5.06,"l":0,"r":1},{"a":5.125,"b":5.25,"c":5.19,"l":0,"r":1},{"a":5.25,"b":5.375,"c":5.31,"l":0,"r":1},{"a":5.375,"b":5.5,"c":5.44,"l":0,"r":1},{"a":5.5,"b":5.625,"c":5.56,"l":0,"r":1},{"a":5.625,"b":5.75,"c":5.69,"l":0,"r":1},{"a":5.75,"b":5.875,"c":5.81,"l":0,"r":1},{"a":5.875,"b":6,"c":5.94,"l":0,"r":1},{"a":6,"b":6.125,"c":6.06,"l":0,"r":1},{"a":6.125,"b":6.25,"c":6.19,"l":0,"r":1},{"a":6.25,"b":6.375,"c":6.31,"l":0,"r":1},{"a":6.375,"b":6.5,"c":6.44,"l":0,"r":1},{"a":6.5,"b":6.625,"c":6.56,"l":0,"r":1},{"a":6.625,"b":6.75,"c":6.69,"l":0,"r":1},{"a":6.75,"b":6.875,"c":6.81,"l":0,"r":1},{"a":6.875,"b":7,"c":6.94,"l":0,"r":1},{"a":7,"b":7.125,"c":7.06,"l":0,"r":1},{"a":7.125,"b":7.25,"c":7.19,"l":0,"r":1},{"a":7.25,"b":7.375,"c":7.31,"l":0,"r":1},{"a":7.375,"b":7.5,"c":7.44,"l":0,"r":1},{"a":7.5,"b":7.625,"c":7.56,"l":0,"r":1},{"a":7.625,"b":7.75,"c":7.69,"l":0,"r":1},{"a":7.75,"b":7.875,"c":7.81,"l":0,"r":1},{"a":7.875,"b":8,"c":7.94,"l":0,"r":1}]},
"mark":{"type":"rect"},
"encoding":{"x":{"field":"l","type":"quantitative","scale":{"domain":[0,1]},"axis":null},"x2":{"field":"r"},"y":{"field":"a","type":"quantitative","scale":{"domain":[0,8]},"axis":{"orient":"right","values":[0,1,2,3,4,5,6,7,8],"tickSize":-5,"tickWidth":3,"labelFontSize":25,"labelPadding":14,"title":null,"zindex":1}},"y2":{"field":"b"},"color":{"field":"c","type":"quantitative","scale":{"domain":[0,1,3,5,7,8],"range":["#00007f","#0000ff","#00ffff","#ffff00","#ff0000","#7f0000"]},"legend":null}}},
{"data":{"values":[{"a":1,"l":0}]},"mark":{"type":"point","opacity":0},"encoding":{"x":{"field":"l","type":"quantitative","axis":null},"y":{"field":"a","type":"quantitative","axis":{"orient":"left","values":[1,2,3,4,5,6,7],"labels":false,"tickSize":-5,"tickWidth":3,"title":null,"zindex":1,"minExtent":27}}}}
]}
]}
